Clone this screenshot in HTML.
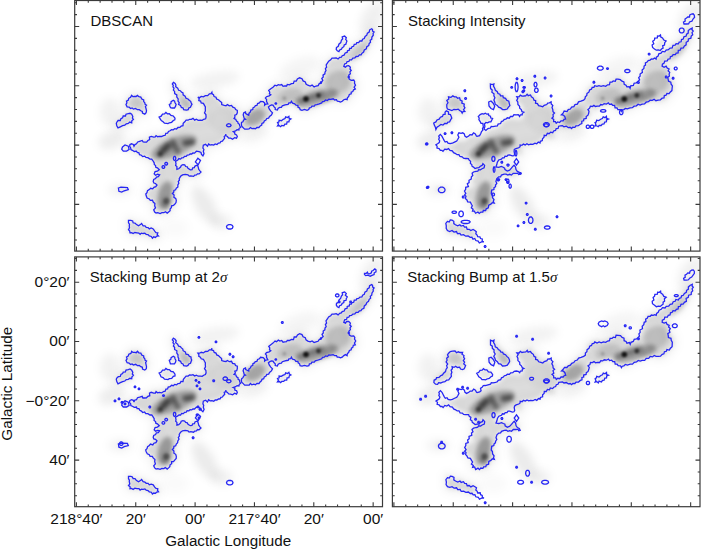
<!DOCTYPE html>
<html><head><meta charset="utf-8"><style>
html,body{margin:0;padding:0;background:#fff;}
svg{display:block;}
text{font-family:"Liberation Sans",sans-serif;fill:#111;}
</style></head><body>
<svg width="701" height="549" viewBox="0 0 701 549">
<defs>
<clipPath id="clip00"><rect x="75" y="0.5" width="307.5" height="250.5"/></clipPath>
<clipPath id="clip10"><rect x="392.5" y="0.5" width="307.5" height="250.5"/></clipPath>
<clipPath id="clip01"><rect x="75" y="257" width="307.5" height="249.5"/></clipPath>
<clipPath id="clip11"><rect x="392.5" y="257" width="307.5" height="249.5"/></clipPath>
<filter id="bl1" filterUnits="userSpaceOnUse" x="0" y="-10" width="420" height="280"><feGaussianBlur stdDeviation="2.2"/></filter>
<filter id="bl2" filterUnits="userSpaceOnUse" x="0" y="-10" width="420" height="280"><feGaussianBlur stdDeviation="4"/></filter>
<filter id="bl3" filterUnits="userSpaceOnUse" x="0" y="-10" width="420" height="280"><feGaussianBlur stdDeviation="1.2"/></filter>
<g id="bgmap" stroke="none"><g fill="#000" fill-opacity="0.04" stroke="#000" stroke-opacity="0.04" stroke-width="9" stroke-linejoin="round" filter="url(#bl2)"><polygon points="129.9,144.6 131.5,143.8 134.0,146.2 136.5,143.8 139.7,141.3 142.2,140.5 144.6,142.1 147.9,140.5 151.2,136.4 153.7,137.2 156.1,135.6 159.4,136.4 163.5,135.6 167.6,133.1 170.1,130.7 173.3,129.8 176.6,129.0 179.9,127.4 183.0,125.7 184.8,121.8 188.1,120.2 191.4,119.3 196.3,119.3 200.4,120.2 203.7,119.3 206.1,116.9 204.5,112.8 205.3,108.7 204.5,105.4 201.2,102.9 198.8,100.5 197.9,97.2 201.2,96.4 205.3,95.6 209.4,93.9 211.9,92.3 213.5,94.7 216.0,97.2 218.4,99.7 220.1,101.3 221.7,104.6 224.2,105.4 227.4,104.6 231.5,105.4 234.8,107.9 237.3,110.3 237.3,112.8 234.8,115.2 234.0,118.5 236.5,121.0 238.1,123.4 239.7,125.9 240.6,127.5 238.9,130.0 235.6,130.8 233.2,131.6 234.8,134.1 237.3,136.5 236.5,138.2 230.7,138.2 227.4,136.5 225.8,134.1 224.2,136.5 223.3,139.8 220.9,141.5 218.4,143.1 215.2,143.9 211.9,144.7 208.6,143.9 207.5,146.1 205.6,144.3 203.3,145.2 202.9,148.0 203.3,151.2 202.9,155.9 201.5,154.5 199.1,151.7 196.4,151.2 194.5,153.1 191.7,154.0 188.9,154.9 186.2,156.3 183.4,157.7 180.6,159.1 177.8,160.0 175.5,161.4 176.0,163.7 176.9,166.5 176.9,169.3 178.7,168.8 180.6,167.0 182.9,164.7 185.7,166.5 188.0,168.4 190.3,169.8 192.7,167.9 195.0,166.1 197.3,165.1 198.2,167.0 198.7,169.3 200.1,171.2 201.0,172.1 199.1,173.9 196.4,174.9 193.6,176.3 190.8,175.8 188.0,174.9 185.2,174.4 182.5,174.9 180.6,176.3 179.2,178.6 178.3,181.4 177.8,185.0 176.3,188.1 173.9,190.4 172.4,193.5 173.9,197.3 176.3,200.4 174.7,204.3 171.6,205.8 170.1,208.9 168.6,212.0 163.9,212.7 160.1,213.5 157.8,212.7 154.7,212.0 154.7,205.8 153.2,202.0 149.3,198.9 146.2,195.8 147.0,192.7 149.3,189.6 153.9,187.3 157.0,185.0 155.5,183.5 153.2,181.4 153.7,179.5 155.6,178.6 158.3,176.7 159.7,174.9 155.6,175.3 154.2,173.9 155.1,171.6 157.4,171.2 159.3,169.8 157.4,167.9 155.6,165.6 154.2,162.8 152.8,160.5 150.0,159.1 147.9,157.7 144.6,156.1 141.4,155.2 138.9,152.8 136.5,151.1 132.4,150.3 130.7,147.9"/><polygon points="241.4,124.2 243.0,127.5 247.1,129.2 250.4,127.5 253.7,128.3 256.9,127.5 260.2,125.9 261.9,123.4 264.3,121.0 266.8,118.5 269.5,116.5 271.4,115.0 272.5,112.9 270.8,111.2 269.2,109.0 268.4,106.9 269.5,106.0 271.4,104.9 273.0,105.2 274.1,106.9 275.2,109.6 277.4,110.1 278.0,108.5 279.6,107.4 282.3,105.8 285.0,104.9 286.5,104.6 288.9,102.9 291.4,101.3 294.7,103.8 297.9,105.4 299.6,107.9 302.0,110.3 304.5,109.5 307.0,110.3 309.4,107.9 311.9,106.2 314.3,106.2 316.8,104.6 319.2,103.8 321.7,102.9 324.2,101.3 327.4,100.5 330.7,99.3 333.2,98.8 336.5,99.7 338.9,101.3 342.2,101.3 343.8,99.7 347.1,99.7 348.7,96.4 351.2,93.9 352.8,91.5 355.3,89.0 354.5,83.3 353.7,80.0 351.2,80.3 348.7,77.0 350.4,73.7 351.2,70.5 350.4,67.2 348.7,65.6 345.5,67.2 343.8,66.4 344.6,63.9 347.1,61.5 349.6,59.8 352.8,58.2 356.1,56.5 359.4,54.9 361.9,53.3 364.3,50.0 366.8,46.7 369.2,43.4 371.7,39.3 373.3,35.2 374.1,32.0 372.5,29.5 371.7,28.7 369.2,32.0 366.8,35.2 364.3,38.5 361.9,41.0 358.6,42.6 356.1,44.2 352.0,46.7 349.6,48.3 347.1,52.4 342.2,55.7 339.7,57.4 338.1,59.0 334.0,58.2 330.7,59.8 327.4,63.1 326.6,67.2 325.0,72.1 323.3,77.0 321.7,81.9 319.2,83.6 316.0,86.0 310.2,86.0 307.8,85.2 305.3,81.9 302.0,78.7 299.6,77.8 296.3,81.1 291.4,83.6 287.3,84.4 284.8,86.0 279.9,85.2 275.0,85.2 274.7,85.5 273.0,87.2 270.8,88.8 268.7,90.5 269.8,92.1 270.8,94.8 269.2,95.9 266.5,96.7 265.4,98.1 266.5,101.4 267.8,103.9 265.9,104.1 264.6,105.2 263.2,101.7 260.5,101.4 259.4,102.9 256.9,105.4 254.5,107.0 252.8,109.5 250.4,112.0 248.7,115.2 247.1,114.4 245.5,112.0 243.8,112.8 243.8,116.9 245.5,119.3 243.0,121.8"/><polygon points="126.0,104.5 126.5,101.1 128.8,98.3 131.7,95.4 134.5,96.5 137.4,95.4 140.8,97.1 143.7,100.0 144.8,102.8 146.5,105.1 146.0,108.5 146.5,110.8 144.8,114.2 142.5,113.1 140.8,110.8 137.4,109.7 133.4,109.1 130.5,108.5 127.1,106.8"/><polygon points="116.3,123.4 116.8,122.2 120.3,120.5 122.6,117.7 126.0,114.2 128.3,113.7 131.7,114.2 132.8,116.5 133.4,119.4 131.7,122.8 128.3,123.4 124.8,125.1 122.6,125.7 120.3,126.8 118.0,127.9 116.8,125.7"/><polygon points="173.4,82.3 175.1,83.4 175.7,86.8 178.6,90.3 181.4,92.0 183.1,94.8 186.0,98.3 189.4,100.5 191.1,102.8 191.1,105.7 188.8,108.0 186.5,110.2 183.7,109.7 181.4,107.4 178.6,104.5 178.0,101.1 176.8,97.1 174.6,91.4 172.9,86.8 172.3,84.0"/><polygon points="128.5,220.4 130.8,220.4 133.1,222.8 136.2,224.3 138.5,225.8 140.8,224.3 141.6,223.5 143.1,225.8 146.2,227.4 149.3,228.9 153.2,228.9 154.7,231.2 157.8,232.8 158.5,235.9 155.5,237.4 152.4,238.2 149.3,235.9 146.2,234.3 143.1,233.5 140.1,234.3 137.0,232.8 133.1,233.5 130.0,232.8 128.5,229.7 129.3,225.8 128.5,222.8"/></g><ellipse cx="112" cy="140" rx="14" ry="9" transform="rotate(-20 112 140)" fill="#000" fill-opacity="0.07" filter="url(#bl2)"/><ellipse cx="110" cy="112" rx="10" ry="14" transform="rotate(0 110 112)" fill="#000" fill-opacity="0.05" filter="url(#bl2)"/><ellipse cx="205" cy="205" rx="9" ry="22" transform="rotate(-30 205 205)" fill="#000" fill-opacity="0.08" filter="url(#bl2)"/><ellipse cx="222" cy="222" rx="10" ry="8" transform="rotate(0 222 222)" fill="#000" fill-opacity="0.06" filter="url(#bl2)"/><ellipse cx="215" cy="80" rx="25" ry="8" transform="rotate(-10 215 80)" fill="#000" fill-opacity="0.05" filter="url(#bl2)"/><ellipse cx="372" cy="18" rx="10" ry="18" transform="rotate(30 372 18)" fill="#000" fill-opacity="0.06" filter="url(#bl2)"/><ellipse cx="300" cy="68" rx="22" ry="10" transform="rotate(-20 300 68)" fill="#000" fill-opacity="0.04" filter="url(#bl2)"/><ellipse cx="175" cy="228" rx="14" ry="10" transform="rotate(0 175 228)" fill="#000" fill-opacity="0.02" filter="url(#bl2)"/><ellipse cx="120" cy="190" rx="12" ry="6" transform="rotate(0 120 190)" fill="#000" fill-opacity="0.05" filter="url(#bl2)"/><ellipse cx="255" cy="135" rx="14" ry="6" transform="rotate(-20 255 135)" fill="#000" fill-opacity="0.05" filter="url(#bl2)"/><g fill="#000" fill-opacity="0.10" filter="url(#bl1)"><polygon points="129.9,144.6 131.5,143.8 134.0,146.2 136.5,143.8 139.7,141.3 142.2,140.5 144.6,142.1 147.9,140.5 151.2,136.4 153.7,137.2 156.1,135.6 159.4,136.4 163.5,135.6 167.6,133.1 170.1,130.7 173.3,129.8 176.6,129.0 179.9,127.4 183.0,125.7 184.8,121.8 188.1,120.2 191.4,119.3 196.3,119.3 200.4,120.2 203.7,119.3 206.1,116.9 204.5,112.8 205.3,108.7 204.5,105.4 201.2,102.9 198.8,100.5 197.9,97.2 201.2,96.4 205.3,95.6 209.4,93.9 211.9,92.3 213.5,94.7 216.0,97.2 218.4,99.7 220.1,101.3 221.7,104.6 224.2,105.4 227.4,104.6 231.5,105.4 234.8,107.9 237.3,110.3 237.3,112.8 234.8,115.2 234.0,118.5 236.5,121.0 238.1,123.4 239.7,125.9 240.6,127.5 238.9,130.0 235.6,130.8 233.2,131.6 234.8,134.1 237.3,136.5 236.5,138.2 230.7,138.2 227.4,136.5 225.8,134.1 224.2,136.5 223.3,139.8 220.9,141.5 218.4,143.1 215.2,143.9 211.9,144.7 208.6,143.9 207.5,146.1 205.6,144.3 203.3,145.2 202.9,148.0 203.3,151.2 202.9,155.9 201.5,154.5 199.1,151.7 196.4,151.2 194.5,153.1 191.7,154.0 188.9,154.9 186.2,156.3 183.4,157.7 180.6,159.1 177.8,160.0 175.5,161.4 176.0,163.7 176.9,166.5 176.9,169.3 178.7,168.8 180.6,167.0 182.9,164.7 185.7,166.5 188.0,168.4 190.3,169.8 192.7,167.9 195.0,166.1 197.3,165.1 198.2,167.0 198.7,169.3 200.1,171.2 201.0,172.1 199.1,173.9 196.4,174.9 193.6,176.3 190.8,175.8 188.0,174.9 185.2,174.4 182.5,174.9 180.6,176.3 179.2,178.6 178.3,181.4 177.8,185.0 176.3,188.1 173.9,190.4 172.4,193.5 173.9,197.3 176.3,200.4 174.7,204.3 171.6,205.8 170.1,208.9 168.6,212.0 163.9,212.7 160.1,213.5 157.8,212.7 154.7,212.0 154.7,205.8 153.2,202.0 149.3,198.9 146.2,195.8 147.0,192.7 149.3,189.6 153.9,187.3 157.0,185.0 155.5,183.5 153.2,181.4 153.7,179.5 155.6,178.6 158.3,176.7 159.7,174.9 155.6,175.3 154.2,173.9 155.1,171.6 157.4,171.2 159.3,169.8 157.4,167.9 155.6,165.6 154.2,162.8 152.8,160.5 150.0,159.1 147.9,157.7 144.6,156.1 141.4,155.2 138.9,152.8 136.5,151.1 132.4,150.3 130.7,147.9"/><polygon points="241.4,124.2 243.0,127.5 247.1,129.2 250.4,127.5 253.7,128.3 256.9,127.5 260.2,125.9 261.9,123.4 264.3,121.0 266.8,118.5 269.5,116.5 271.4,115.0 272.5,112.9 270.8,111.2 269.2,109.0 268.4,106.9 269.5,106.0 271.4,104.9 273.0,105.2 274.1,106.9 275.2,109.6 277.4,110.1 278.0,108.5 279.6,107.4 282.3,105.8 285.0,104.9 286.5,104.6 288.9,102.9 291.4,101.3 294.7,103.8 297.9,105.4 299.6,107.9 302.0,110.3 304.5,109.5 307.0,110.3 309.4,107.9 311.9,106.2 314.3,106.2 316.8,104.6 319.2,103.8 321.7,102.9 324.2,101.3 327.4,100.5 330.7,99.3 333.2,98.8 336.5,99.7 338.9,101.3 342.2,101.3 343.8,99.7 347.1,99.7 348.7,96.4 351.2,93.9 352.8,91.5 355.3,89.0 354.5,83.3 353.7,80.0 351.2,80.3 348.7,77.0 350.4,73.7 351.2,70.5 350.4,67.2 348.7,65.6 345.5,67.2 343.8,66.4 344.6,63.9 347.1,61.5 349.6,59.8 352.8,58.2 356.1,56.5 359.4,54.9 361.9,53.3 364.3,50.0 366.8,46.7 369.2,43.4 371.7,39.3 373.3,35.2 374.1,32.0 372.5,29.5 371.7,28.7 369.2,32.0 366.8,35.2 364.3,38.5 361.9,41.0 358.6,42.6 356.1,44.2 352.0,46.7 349.6,48.3 347.1,52.4 342.2,55.7 339.7,57.4 338.1,59.0 334.0,58.2 330.7,59.8 327.4,63.1 326.6,67.2 325.0,72.1 323.3,77.0 321.7,81.9 319.2,83.6 316.0,86.0 310.2,86.0 307.8,85.2 305.3,81.9 302.0,78.7 299.6,77.8 296.3,81.1 291.4,83.6 287.3,84.4 284.8,86.0 279.9,85.2 275.0,85.2 274.7,85.5 273.0,87.2 270.8,88.8 268.7,90.5 269.8,92.1 270.8,94.8 269.2,95.9 266.5,96.7 265.4,98.1 266.5,101.4 267.8,103.9 265.9,104.1 264.6,105.2 263.2,101.7 260.5,101.4 259.4,102.9 256.9,105.4 254.5,107.0 252.8,109.5 250.4,112.0 248.7,115.2 247.1,114.4 245.5,112.0 243.8,112.8 243.8,116.9 245.5,119.3 243.0,121.8"/><polygon points="336.5,47.5 338.9,44.2 341.4,40.2 342.2,36.9 344.6,36.1 346.3,37.7 346.3,42.6 343.8,46.7 341.4,49.2 338.9,51.6 337.3,50.8"/><polygon points="126.0,104.5 126.5,101.1 128.8,98.3 131.7,95.4 134.5,96.5 137.4,95.4 140.8,97.1 143.7,100.0 144.8,102.8 146.5,105.1 146.0,108.5 146.5,110.8 144.8,114.2 142.5,113.1 140.8,110.8 137.4,109.7 133.4,109.1 130.5,108.5 127.1,106.8"/><polygon points="116.3,123.4 116.8,122.2 120.3,120.5 122.6,117.7 126.0,114.2 128.3,113.7 131.7,114.2 132.8,116.5 133.4,119.4 131.7,122.8 128.3,123.4 124.8,125.1 122.6,125.7 120.3,126.8 118.0,127.9 116.8,125.7"/><polygon points="159.1,117.1 162.5,114.2 165.9,112.5 169.3,113.7 173.3,116.0 175.0,118.2 173.3,120.5 169.3,122.8 166.5,123.4 163.1,121.7 160.2,118.8"/><polygon points="169.3,104.5 171.1,101.7 173.3,100.3 175.0,102.8 175.6,106.2 174.5,108.0 172.2,108.0 169.9,106.2"/><polygon points="173.4,82.3 175.1,83.4 175.7,86.8 178.6,90.3 181.4,92.0 183.1,94.8 186.0,98.3 189.4,100.5 191.1,102.8 191.1,105.7 188.8,108.0 186.5,110.2 183.7,109.7 181.4,107.4 178.6,104.5 178.0,101.1 176.8,97.1 174.6,91.4 172.9,86.8 172.3,84.0"/><polygon points="128.5,220.4 130.8,220.4 133.1,222.8 136.2,224.3 138.5,225.8 140.8,224.3 141.6,223.5 143.1,225.8 146.2,227.4 149.3,228.9 153.2,228.9 154.7,231.2 157.8,232.8 158.5,235.9 155.5,237.4 152.4,238.2 149.3,235.9 146.2,234.3 143.1,233.5 140.1,234.3 137.0,232.8 133.1,233.5 130.0,232.8 128.5,229.7 129.3,225.8 128.5,222.8"/><polygon points="277.5,122.6 279.1,120.2 283.2,119.3 285.7,116.9 288.9,116.4 290.9,119.0 288.9,121.8 284.8,124.2 280.7,126.7 277.5,125.9"/><polygon points="118.4,188.0 120.9,187.2 127.4,187.5 128.3,189.6 124.2,190.8 121.7,192.1 118.9,191.3"/><polygon points="122.5,147.0 125.0,144.9 128.3,146.2 129.1,149.5 126.6,151.1 123.3,151.1 121.7,149.2"/></g><ellipse cx="174" cy="147" rx="24" ry="9" transform="rotate(-22 174 147)" fill="#000" fill-opacity="0.28" filter="url(#bl1)"/><ellipse cx="165" cy="195" rx="7" ry="14" transform="rotate(15 165 195)" fill="#000" fill-opacity="0.3" filter="url(#bl1)"/><ellipse cx="166" cy="203" rx="4" ry="6" transform="rotate(0 166 203)" fill="#000" fill-opacity="0.3" filter="url(#bl1)"/><ellipse cx="255" cy="117" rx="11" ry="7" transform="rotate(-30 255 117)" fill="#000" fill-opacity="0.24" filter="url(#bl1)"/><ellipse cx="316" cy="98" rx="22" ry="7" transform="rotate(-15 316 98)" fill="#000" fill-opacity="0.26" filter="url(#bl1)"/><ellipse cx="338" cy="82" rx="13" ry="11" transform="rotate(-30 338 82)" fill="#000" fill-opacity="0.14" filter="url(#bl1)"/><ellipse cx="360" cy="52" rx="12" ry="4" transform="rotate(-45 360 52)" fill="#000" fill-opacity="0.1" filter="url(#bl1)"/><ellipse cx="222" cy="120" rx="14" ry="12" transform="rotate(0 222 120)" fill="#000" fill-opacity="0.03" filter="url(#bl1)"/><ellipse cx="186" cy="103" rx="4" ry="7" transform="rotate(-35 186 103)" fill="#000" fill-opacity="0.14" filter="url(#bl1)"/><ellipse cx="137" cy="103" rx="6" ry="5" transform="rotate(0 137 103)" fill="#000" fill-opacity="0.08" filter="url(#bl1)"/><ellipse cx="290" cy="96" rx="13" ry="7" transform="rotate(-15 290 96)" fill="#000" fill-opacity="0.12" filter="url(#bl1)"/><ellipse cx="330" cy="96" rx="10" ry="5" transform="rotate(-15 330 96)" fill="#000" fill-opacity="0.1" filter="url(#bl1)"/><line x1="160" y1="154.5" x2="168" y2="145" stroke="#000" stroke-opacity="0.55" stroke-width="5" stroke-linecap="round" filter="url(#bl1)"/><line x1="172.5" y1="141" x2="178" y2="152" stroke="#000" stroke-opacity="0.45" stroke-width="4.5" stroke-linecap="round" filter="url(#bl1)"/><line x1="185" y1="143" x2="192.5" y2="142" stroke="#000" stroke-opacity="0.55" stroke-width="5.5" stroke-linecap="round" filter="url(#bl1)"/><line x1="163" y1="150" x2="171" y2="146" stroke="#000" stroke-opacity="0.25" stroke-width="7" stroke-linecap="round" filter="url(#bl1)"/><line x1="300" y1="101" x2="322" y2="94" stroke="#000" stroke-opacity="0.3" stroke-width="5" stroke-linecap="round" filter="url(#bl1)"/><circle cx="160" cy="154" r="2.5" fill="#000" fill-opacity="0.35" filter="url(#bl3)"/><circle cx="284.4" cy="98.2" r="2" fill="#000" fill-opacity="0.18" filter="url(#bl3)"/><circle cx="166.5" cy="201" r="3" fill="#000" fill-opacity="0.3" filter="url(#bl3)"/><circle cx="306" cy="99" r="2.8" fill="#000" fill-opacity="0.85" filter="url(#bl3)"/><circle cx="318.5" cy="95.5" r="2.4" fill="#000" fill-opacity="0.6" filter="url(#bl3)"/></g>
</defs>
<rect width="701" height="549" fill="#fff"/>
<g fill="none" stroke="#2626f4" stroke-width="1.28" stroke-linejoin="miter" stroke-miterlimit="3">
<g clip-path="url(#clip00)"><use href="#bgmap" stroke="none" transform="translate(0,0)"/><g transform="translate(0,0)"><polygon points="129.9,144.6 131.5,143.8 133.3,144.4 134.0,146.2 134.9,144.6 136.5,143.8 137.7,142.0 139.7,141.3 142.2,140.5 143.1,141.8 144.6,142.1 146.6,142.1 147.9,140.5 149.7,139.7 149.4,137.2 151.2,136.4 153.7,137.2 155.2,136.9 156.1,135.6 157.6,136.7 159.4,136.4 161.5,136.5 163.5,135.6 165.2,135.3 165.8,133.3 167.6,133.1 168.5,131.5 170.1,130.7 171.5,129.7 173.3,129.8 174.8,128.6 176.6,129.0 177.9,127.5 179.9,127.4 181.2,126.0 183.0,125.7 183.2,123.4 184.8,121.8 186.1,120.2 188.1,120.2 189.6,119.3 191.4,119.3 193.0,118.4 194.7,120.1 196.3,119.3 198.2,120.4 200.4,120.2 202.2,120.3 203.7,119.3 205.6,118.8 206.1,116.9 205.9,114.6 204.5,112.8 205.4,110.9 205.3,108.7 205.4,106.9 204.5,105.4 203.4,103.4 201.2,102.9 200.6,101.1 198.8,100.5 199.2,98.6 197.9,97.2 199.8,97.6 201.2,96.4 203.4,96.8 205.3,95.6 207.7,95.7 209.4,93.9 211.0,93.7 211.9,92.3 212.1,93.9 213.5,94.7 214.1,96.6 216.0,97.2 216.6,99.0 218.4,99.7 220.1,101.3 221.7,102.5 221.7,104.6 224.2,105.4 226.0,105.8 227.4,104.6 229.3,105.8 231.5,105.4 232.8,107.1 234.8,107.9 235.6,109.5 237.3,110.3 237.3,112.8 236.5,114.5 234.8,115.2 234.9,117.0 234.0,118.5 235.7,119.3 236.5,121.0 237.8,121.9 238.1,123.4 239.4,124.3 239.7,125.9 240.6,127.5 239.1,128.3 238.9,130.0 237.1,129.7 235.6,130.8 233.2,131.6 234.6,132.5 234.8,134.1 236.5,134.9 237.3,136.5 236.5,138.2 234.6,137.6 232.6,139.2 230.7,138.2 228.7,138.1 227.4,136.5 225.9,135.7 225.8,134.1 225.5,135.6 224.2,136.5 224.6,138.4 223.3,139.8 222.4,141.1 220.9,141.5 220.0,142.9 218.4,143.1 217.0,144.5 215.2,143.9 213.7,145.1 211.9,144.7 210.1,145.1 208.6,143.9 207.5,146.1 205.6,144.3 203.3,145.2 202.9,148.0 203.9,149.5 203.3,151.2 204.0,153.6 202.9,155.9 201.5,154.5 201.0,152.5 199.1,151.7 196.4,151.2 194.5,153.1 192.9,153.0 191.7,154.0 190.1,154.0 188.9,154.9 187.2,155.0 186.2,156.3 184.5,156.4 183.4,157.7 181.7,157.9 180.6,159.1 178.9,158.6 177.8,160.0 175.5,161.4 176.0,163.7 175.6,165.4 176.9,166.5 176.9,169.3 178.7,168.8 180.6,167.0 181.3,165.4 182.9,164.7 184.7,164.9 185.7,166.5 187.3,166.9 188.0,168.4 190.3,169.8 192.1,169.6 192.7,167.9 194.3,167.6 195.0,166.1 197.3,165.1 198.2,167.0 198.7,169.3 200.1,171.2 201.0,172.1 199.1,173.9 197.5,173.8 196.4,174.9 194.7,175.0 193.6,176.3 190.8,175.8 189.2,176.1 188.0,174.9 185.2,174.4 182.5,174.9 180.6,176.3 179.2,178.6 179.4,180.2 178.3,181.4 178.8,183.3 177.8,185.0 177.9,187.0 176.3,188.1 175.6,189.8 173.9,190.4 173.7,192.2 172.4,193.5 174.1,195.0 173.9,197.3 175.7,198.4 176.3,200.4 176.0,202.6 174.7,204.3 173.4,205.5 171.6,205.8 171.3,207.6 170.1,208.9 170.1,210.8 168.6,212.0 167.2,213.1 165.4,211.8 163.9,212.7 161.9,212.6 160.1,213.5 157.8,212.7 156.1,213.0 154.7,212.0 153.7,209.9 155.5,207.9 154.7,205.8 154.9,203.5 153.2,202.0 152.5,200.2 150.3,200.3 149.3,198.9 147.1,198.0 146.2,195.8 145.8,194.0 147.0,192.7 147.5,190.7 149.3,189.6 150.6,188.3 152.7,188.8 153.9,187.3 155.8,186.6 157.0,185.0 155.5,183.5 153.9,183.0 153.2,181.4 153.7,179.5 155.6,178.6 156.5,177.1 158.3,176.7 159.7,174.9 157.6,174.1 155.6,175.3 154.2,173.9 155.1,171.6 157.4,171.2 159.3,169.8 157.4,167.9 155.8,167.3 155.6,165.6 154.3,164.5 154.2,162.8 152.8,160.5 151.7,159.1 150.0,159.1 147.9,157.7 146.0,157.4 144.6,156.1 142.7,156.6 141.4,155.2 139.5,154.7 138.9,152.8 137.3,152.5 136.5,151.1 134.3,151.5 132.4,150.3 130.9,149.6 130.7,147.9 129.7,146.4"/><polygon points="241.4,124.2 241.7,126.1 243.0,127.5 244.7,129.1 247.1,129.2 249.0,128.9 250.4,127.5 251.9,128.6 253.7,128.3 255.5,128.7 256.9,127.5 258.9,127.5 260.2,125.9 261.7,125.1 261.9,123.4 263.6,122.7 264.3,121.0 265.9,120.1 266.8,118.5 268.6,118.1 269.5,116.5 271.4,115.0 272.5,112.9 270.8,111.2 269.2,109.0 268.4,106.9 269.5,106.0 271.4,104.9 273.0,105.2 274.1,106.9 275.3,108.0 275.2,109.6 277.4,110.1 278.0,108.5 279.6,107.4 281.4,107.4 282.3,105.8 285.0,104.9 286.5,104.6 288.1,104.4 288.9,102.9 290.6,102.8 291.4,101.3 292.6,103.1 294.7,103.8 296.0,105.1 297.9,105.4 298.0,107.2 299.6,107.9 300.2,109.7 302.0,110.3 304.5,109.5 307.0,110.3 308.7,109.6 309.4,107.9 311.0,107.5 311.9,106.2 314.3,106.2 315.1,104.8 316.8,104.6 319.2,103.8 321.7,102.9 322.5,101.5 324.2,101.3 325.6,100.0 327.4,100.5 328.8,99.1 330.7,99.3 333.2,98.8 334.7,100.0 336.5,99.7 337.3,101.2 338.9,101.3 340.5,102.0 342.2,101.3 343.8,99.7 345.5,99.2 347.1,99.7 347.4,97.8 348.7,96.4 349.3,94.5 351.2,93.9 351.2,92.2 352.8,91.5 353.6,89.8 355.3,89.0 354.1,87.2 355.5,85.1 354.5,83.3 354.6,81.5 353.7,80.0 351.2,80.3 349.2,79.2 348.7,77.0 348.8,75.0 350.4,73.7 349.9,71.9 351.2,70.5 350.0,69.0 350.4,67.2 348.7,65.6 346.9,65.9 345.5,67.2 343.8,66.4 344.6,63.9 346.4,63.3 347.1,61.5 348.9,61.4 349.6,59.8 351.6,59.8 352.8,58.2 354.8,57.9 356.1,56.5 358.1,56.4 359.4,54.9 361.1,54.8 361.9,53.3 363.6,52.0 364.3,50.0 366.3,48.9 366.8,46.7 368.7,45.6 369.2,43.4 370.5,42.3 370.2,40.3 371.7,39.3 371.9,37.0 373.3,35.2 373.1,33.5 374.1,32.0 372.6,31.2 372.5,29.5 371.7,28.7 369.7,29.8 369.2,32.0 367.4,33.1 366.8,35.2 365.1,36.5 364.3,38.5 362.6,39.2 361.9,41.0 359.9,41.0 358.6,42.6 356.8,42.6 356.1,44.2 354.3,44.3 353.6,46.3 352.0,46.7 351.3,48.3 349.6,48.3 349.5,50.1 347.5,50.8 347.1,52.4 345.2,53.0 344.1,55.1 342.2,55.7 341.4,57.2 339.7,57.4 338.1,59.0 336.2,58.0 334.0,58.2 332.0,58.2 330.7,59.8 328.7,61.1 327.4,63.1 326.2,65.0 326.6,67.2 325.4,68.6 326.0,70.6 325.0,72.1 324.9,73.9 323.0,75.1 323.3,77.0 321.8,78.3 322.8,80.4 321.7,81.9 320.9,83.5 319.2,83.6 318.2,85.6 316.0,86.0 314.1,87.0 312.1,85.1 310.2,86.0 307.8,85.2 306.0,84.0 305.3,81.9 303.1,80.9 302.0,78.7 299.6,77.8 297.4,78.9 296.3,81.1 294.2,81.1 293.4,83.5 291.4,83.6 289.5,84.9 287.3,84.4 286.6,86.0 284.8,86.0 283.1,86.4 281.7,84.6 279.9,85.2 278.3,84.7 276.6,85.8 275.0,85.2 274.7,85.5 273.0,87.2 270.8,88.8 268.7,90.5 269.8,92.1 269.4,93.8 270.8,94.8 269.2,95.9 266.5,96.7 265.4,98.1 266.6,99.5 266.5,101.4 267.8,103.9 265.9,104.1 264.6,105.2 264.7,103.1 263.2,101.7 260.5,101.4 259.4,102.9 257.6,103.6 256.9,105.4 255.4,105.7 254.5,107.0 253.0,107.8 252.8,109.5 250.9,110.1 250.4,112.0 249.0,113.3 248.7,115.2 247.1,114.4 245.7,113.6 245.5,112.0 243.8,112.8 243.2,114.8 243.8,116.9 244.2,118.4 245.5,119.3 243.6,119.9 243.0,121.8 241.5,122.5"/><polygon points="336.5,47.5 338.3,46.3 338.9,44.2 340.8,42.6 341.4,40.2 342.7,38.8 342.2,36.9 344.6,36.1 346.3,37.7 345.7,39.3 346.9,41.0 346.3,42.6 345.9,44.2 344.2,45.0 343.8,46.7 342.2,47.6 341.4,49.2 339.7,50.0 338.9,51.6 337.3,50.8 336.2,49.3"/><polygon points="126.0,104.5 126.9,102.9 126.5,101.1 128.2,100.2 128.8,98.3 130.6,97.2 131.7,95.4 132.9,96.6 134.5,96.5 136.1,96.5 137.4,95.4 138.9,96.7 140.8,97.1 141.8,99.0 143.7,100.0 143.7,101.6 144.8,102.8 145.1,104.3 146.5,105.1 145.4,106.7 146.0,108.5 146.5,110.8 146.1,112.7 144.8,114.2 142.5,113.1 142.3,111.5 140.8,110.8 139.3,109.7 137.4,109.7 135.5,108.5 133.4,109.1 132.1,107.9 130.5,108.5 129.1,107.1 127.1,106.8"/><polygon points="116.3,123.4 116.8,122.2 118.1,120.5 120.3,120.5 120.9,118.7 122.6,117.7 123.2,116.0 125.5,116.0 126.0,114.2 128.3,113.7 130.1,113.3 131.7,114.2 132.8,116.5 132.4,118.1 133.4,119.4 131.8,120.7 131.7,122.8 129.8,122.1 128.3,123.4 126.3,123.8 124.8,125.1 122.6,125.7 120.3,126.8 118.0,127.9 116.8,125.7"/><polygon points="159.1,117.1 161.2,116.2 162.5,114.2 164.5,114.0 165.9,112.5 167.4,113.8 169.3,113.7 171.0,115.4 173.3,116.0 175.0,118.2 174.8,119.8 173.3,120.5 171.6,122.3 169.3,122.8 168.0,123.6 166.5,123.4 164.5,123.2 163.1,121.7 161.3,120.6 160.2,118.8"/><polygon points="169.3,104.5 170.9,103.5 171.1,101.7 173.3,100.3 174.6,101.2 175.0,102.8 176.1,104.4 175.6,106.2 174.5,108.0 172.2,108.0 170.6,107.6 169.9,106.2"/><polygon points="173.4,82.3 175.1,83.4 175.9,85.0 175.7,86.8 177.7,88.1 178.6,90.3 180.3,90.7 181.4,92.0 183.0,92.9 183.1,94.8 185.1,96.1 186.0,98.3 188.0,99.0 189.4,100.5 190.7,101.3 191.1,102.8 192.0,104.2 191.1,105.7 190.4,107.3 188.8,108.0 188.2,109.7 186.5,110.2 183.7,109.7 183.1,108.0 181.4,107.4 180.5,105.4 178.6,104.5 179.2,102.6 178.0,101.1 178.2,98.9 176.8,97.1 176.8,94.9 174.7,93.6 174.6,91.4 173.4,90.1 174.0,88.1 172.9,86.8 173.3,85.3 172.3,84.0"/><polygon points="122.5,147.0 125.0,144.9 128.3,146.2 129.1,149.5 126.6,151.1 123.3,151.1 121.7,149.2"/><polygon points="118.4,188.0 120.9,187.2 127.4,187.5 128.3,189.6 124.2,190.8 121.7,192.1 118.9,191.3"/><polygon points="128.5,220.4 130.8,220.4 132.7,220.9 133.1,222.8 134.9,223.1 136.2,224.3 138.5,225.8 140.8,224.3 141.6,223.5 143.1,225.8 145.0,225.8 146.2,227.4 148.1,227.5 149.3,228.9 151.2,227.9 153.2,228.9 154.7,231.2 155.9,232.6 157.8,232.8 157.2,234.6 158.5,235.9 156.7,236.1 155.5,237.4 153.7,236.8 152.4,238.2 151.3,236.5 149.3,235.9 148.0,234.6 146.2,234.3 144.8,233.2 143.1,233.5 141.4,233.1 140.1,234.3 138.8,233.1 137.0,232.8 134.9,232.5 133.1,233.5 131.7,232.7 130.0,232.8 129.7,231.0 128.5,229.7 129.5,227.9 129.3,225.8 129.5,224.1 128.5,222.8"/><polygon points="277.5,122.6 279.0,121.8 279.1,120.2 281.4,120.7 283.2,119.3 285.0,118.6 285.7,116.9 287.4,117.5 288.9,116.4 289.1,118.3 290.9,119.0 289.3,120.0 288.9,121.8 287.1,121.9 286.6,124.1 284.8,124.2 283.9,125.8 281.8,125.4 280.7,126.7 279.2,125.7 277.5,125.9 278.5,124.2"/><polygon points="231.1,125.3 230.4,126.4 228.8,126.9 227.2,126.4 226.5,125.3 227.2,124.2 228.8,123.7 230.4,124.2"/><polygon points="164.8,167.0 164.5,167.8 163.8,168.3 163.0,168.3 162.3,167.8 162.0,167.0 162.3,166.2 163.0,165.7 163.8,165.7 164.5,166.2"/><polygon points="167.6,163.8 167.3,164.5 166.6,165.0 165.8,165.0 165.1,164.5 164.8,163.8 165.1,163.0 165.8,162.5 166.6,162.5 167.3,163.0"/><polygon points="175.8,158.4 175.6,159.6 175.0,160.4 174.2,160.4 173.6,159.6 173.4,158.4 173.6,157.2 174.2,156.4 175.0,156.4 175.6,157.2"/><polygon points="197.9,158.2 200.5,160.5 198.2,164.7 195.4,162.0"/><polygon points="233.0,226.8 232.4,228.2 230.8,229.0 228.7,229.0 227.1,228.2 226.5,226.8 227.1,225.4 228.7,224.6 230.8,224.6 232.4,225.4"/><polygon points="276.6,103.6 276.2,104.2 275.4,104.2 275.0,103.6 275.4,103.0 276.2,103.0"/><polygon points="321.5,82.5 321.2,83.0 320.6,83.0 320.3,82.5 320.6,82.0 321.2,82.0"/><polygon points="349.3,77.0 349.0,77.5 348.4,77.5 348.1,77.0 348.4,76.5 349.0,76.5"/></g></g>
<g clip-path="url(#clip10)"><use href="#bgmap" stroke="none" transform="translate(318.3,0)"/><g transform="translate(317.5,0)"><polygon points="118.4,144.8 120.1,143.7 121.7,142.6 122.2,140.8 121.2,139.3 121.9,137.7 121.2,136.1 122.8,134.4 124.4,136.1 125.5,138.3 126.6,140.4 127.7,142.1 129.4,141.5 130.5,143.2 132.6,143.7 134.8,143.2 137.0,142.1 139.2,141.0 140.3,139.3 141.4,137.2 140.3,135.0 141.4,132.8 143.6,133.3 145.2,132.8 146.8,133.9 147.4,136.1 149.0,137.2 151.2,136.1 152.5,134.6 154.5,135.0 156.1,132.8 157.8,133.9 158.9,136.1 159.5,136.3 162.1,135.6 163.3,133.5 164.0,131.5 165.3,130.3 165.0,128.5 165.9,127.1 165.6,125.5 165.3,123.3 163.5,123.3 162.7,121.6 161.4,119.7 161.7,118.0 160.8,116.5 162.7,114.6 164.6,113.6 166.3,114.1 167.8,113.3 169.3,114.2 171.0,113.9 171.3,115.6 172.9,116.2 173.3,118.0 175.1,118.4 174.2,120.3 173.4,121.9 171.6,121.9 170.1,122.9 168.4,122.5 166.9,124.0 167.4,126.5 166.6,129.0 168.4,130.5 170.4,128.6 172.9,128.0 173.7,126.4 175.5,126.7 178.0,126.1 179.9,125.9 180.6,124.1 183.1,123.5 183.9,121.6 185.8,120.8 186.7,119.4 188.4,119.1 189.9,117.8 191.8,118.2 193.0,116.4 195.2,116.5 196.4,114.7 198.6,114.8 200.8,114.7 202.1,116.5 202.8,114.9 204.6,114.8 204.9,113.1 206.3,112.2 204.4,111.5 203.8,109.6 202.2,108.3 202.1,106.2 200.4,104.4 200.3,101.9 199.2,100.4 200.3,98.4 199.3,96.8 201.5,96.9 202.8,95.1 204.4,96.1 206.2,96.0 208.2,95.8 209.6,94.2 210.7,95.7 213.0,95.0 213.9,96.8 215.7,98.1 216.5,100.2 218.2,100.7 218.0,103.2 219.9,103.6 221.1,105.6 223.3,106.2 225.2,106.8 226.7,105.4 229.3,104.5 230.2,103.0 231.9,102.8 233.6,101.9 233.7,104.0 235.3,105.4 234.5,107.5 235.3,109.6 235.5,111.7 237.0,113.1 235.5,114.5 235.8,116.8 234.4,118.2 236.2,119.4 236.1,121.6 237.9,121.7 238.7,123.3 240.2,122.0 242.1,122.5 243.5,120.9 245.6,120.8 246.5,119.4 248.1,119.1 247.3,116.5 245.9,115.0 243.9,114.8 245.6,113.1 246.7,111.0 249.6,111.6 250.7,109.6 252.9,109.0 254.1,107.1 256.4,106.6 257.5,104.5 259.9,104.1 261.0,101.9 263.5,101.1 266.1,100.2 267.5,98.8 267.8,96.8 269.3,95.4 269.5,93.4 271.4,92.2 272.1,90.0 273.9,89.2 274.7,87.4 276.4,87.3 277.2,85.7 279.4,86.4 281.5,85.7 283.6,86.3 285.8,85.7 288.2,86.3 290.1,84.8 292.0,84.6 292.5,82.2 294.5,82.2 295.7,80.9 297.8,81.3 298.6,79.2 300.5,79.2 302.8,79.7 304.5,81.2 306.4,82.0 306.7,84.3 308.5,85.2 309.4,86.8 311.7,86.6 312.6,88.2 313.2,85.9 315.9,85.4 316.6,83.2 318.9,82.8 320.6,81.2 322.1,79.9 321.2,77.6 322.6,76.2 322.6,74.0 324.9,72.4 324.6,70.1 326.4,68.5 326.6,66.1 328.0,65.1 327.9,62.9 329.6,62.1 330.7,60.5 332.6,60.1 333.9,59.0 335.6,59.1 337.1,58.0 338.6,59.1 338.9,57.1 340.6,56.1 341.3,53.8 343.6,53.1 344.8,51.4 347.3,51.8 348.6,50.1 350.9,49.7 352.6,48.1 354.7,47.9 355.5,45.4 357.6,45.1 358.6,43.6 360.9,43.9 361.7,42.1 363.6,41.8 364.0,39.6 365.7,39.1 366.4,36.8 368.7,36.1 369.1,34.2 370.7,33.1 370.8,30.6 372.7,29.1 374.7,28.1 374.5,29.8 375.7,31.1 374.5,32.6 375.2,34.7 373.7,36.1 373.4,38.2 370.9,38.9 370.7,41.1 368.7,42.3 368.6,44.9 366.7,46.1 365.9,48.0 363.5,48.2 362.7,50.1 360.8,50.3 360.6,52.9 358.7,53.1 357.8,54.7 355.6,54.6 354.6,56.1 352.9,56.7 352.5,58.8 350.6,59.1 349.7,60.9 347.2,61.0 346.6,63.1 344.9,64.2 344.6,66.1 346.6,67.2 348.6,66.1 349.7,68.0 351.6,69.1 350.6,70.8 352.2,72.4 351.6,74.1 351.9,75.9 350.2,77.4 350.6,79.2 351.0,81.2 353.3,82.1 353.6,84.2 354.9,86.0 354.6,88.2 354.4,90.6 352.6,92.2 351.6,93.7 349.4,93.5 348.6,95.2 346.8,95.6 346.5,97.9 344.6,98.2 342.9,99.8 340.6,100.2 338.4,100.7 336.6,99.2 334.8,100.3 332.6,100.2 330.9,101.7 328.6,102.2 327.0,104.0 324.6,104.2 322.6,105.1 320.6,104.2 318.9,105.8 316.6,106.2 314.8,107.7 312.5,107.9 309.8,108.8 307.9,108.4 306.3,109.6 304.7,110.0 303.8,111.4 302.9,109.6 300.4,109.7 299.5,107.9 297.6,107.8 297.1,105.4 295.2,105.4 294.1,104.0 292.0,104.3 290.9,102.8 288.9,104.1 286.6,103.6 285.1,104.9 283.2,104.5 281.9,106.2 279.8,106.2 277.9,106.5 276.4,105.4 274.8,106.5 272.9,106.2 272.1,108.2 270.4,109.6 271.5,111.2 271.2,113.1 270.5,115.2 268.7,116.5 268.7,118.4 266.3,119.0 266.1,120.8 264.3,121.2 264.3,123.5 262.7,124.2 260.8,125.7 258.4,125.9 257.4,127.4 255.2,127.1 254.1,128.5 252.6,127.3 250.7,127.6 248.7,126.1 246.4,126.8 244.9,125.6 243.0,125.9 241.2,126.2 240.6,128.4 238.7,128.5 238.0,130.4 236.1,131.0 235.2,132.7 233.0,132.2 231.9,133.6 229.9,133.3 228.7,135.6 226.7,135.3 226.5,137.3 225.0,138.7 224.8,140.5 222.8,141.3 222.5,143.0 220.8,142.0 219.2,143.8 217.5,143.2 215.4,144.4 213.0,144.1 211.1,144.8 209.4,143.7 207.7,144.9 205.8,144.1 204.4,145.4 202.6,145.0 202.6,146.7 201.2,147.8 198.5,148.7 196.8,149.5 196.6,151.4 197.1,154.1 196.5,155.7 194.8,155.9 192.1,155.0 190.4,155.1 189.4,156.4 187.5,156.2 186.6,157.8 185.0,157.9 183.9,159.1 181.2,160.0 179.8,162.3 179.3,164.6 178.4,166.9 181.2,167.3 183.9,166.4 185.7,167.3 187.1,168.1 187.5,169.6 189.8,171.0 192.1,170.1 193.9,168.2 195.3,166.4 196.6,165.1 198.0,166.9 198.5,169.6 199.8,171.4 201.7,172.3 202.6,174.2 201.2,174.6 200.2,173.2 198.5,173.3 195.7,173.3 193.9,175.1 192.1,174.3 190.3,175.1 188.6,174.1 186.6,174.2 183.9,175.1 183.1,176.8 181.2,176.9 179.3,178.7 178.4,181.4 179.3,183.3 178.0,185.0 178.0,186.7 176.5,187.6 176.4,189.5 174.2,190.1 173.9,191.9 173.8,193.8 174.8,195.3 175.0,197.7 176.5,199.6 175.7,201.4 176.7,203.1 174.7,202.7 173.3,204.2 171.2,205.2 170.8,207.8 168.7,208.8 168.1,210.5 165.8,210.5 165.3,212.2 163.3,212.1 161.8,213.4 160.4,212.0 158.1,213.2 156.9,211.1 155.0,211.1 155.6,209.2 153.8,207.8 154.8,205.8 153.9,204.2 152.9,202.1 150.2,201.8 149.3,199.7 147.8,198.5 148.5,196.3 147.0,195.1 148.3,193.4 147.0,191.1 148.2,189.4 148.2,187.3 150.9,186.5 149.8,183.8 151.6,182.6 151.5,180.3 153.7,179.0 153.9,176.8 155.3,175.5 154.6,173.3 156.0,172.0 158.5,171.3 160.3,171.2 161.1,169.6 162.9,169.8 164.5,168.8 166.6,167.7 167.1,165.4 165.4,163.6 164.6,165.4 162.8,166.2 161.4,167.7 159.4,167.9 157.5,168.5 156.0,167.1 154.5,166.2 154.3,164.5 152.9,163.4 153.1,161.3 151.7,160.2 150.9,158.6 149.1,158.5 147.9,158.5 146.0,158.1 144.7,156.8 142.5,156.5 141.4,154.6 139.6,154.7 138.1,153.6 136.1,152.7 134.8,150.8 132.5,150.4 131.0,148.6 129.2,149.5 127.2,149.2 125.5,151.4 124.4,150.3 122.8,150.3 121.6,148.5 119.5,148.1 119.6,146.2"/><polygon points="129.3,104.5 130.5,102.8 129.3,100.5 131.3,98.9 131.0,96.8 133.4,97.4 135.3,95.9 136.9,96.9 138.7,96.8 140.1,98.3 142.1,97.7 142.7,100.0 144.7,101.1 144.3,103.1 146.8,104.2 146.4,106.2 147.4,107.8 146.0,109.8 147.3,111.4 145.5,111.5 144.7,113.1 143.8,111.4 142.1,110.5 140.7,109.1 138.7,109.6 136.4,109.3 134.4,110.5 131.9,109.6 129.9,109.0 129.3,107.1"/><polygon points="116.2,123.0 118.4,121.9 119.5,119.9 121.7,119.1 122.9,117.2 125.0,116.4 125.7,114.5 127.7,114.2 127.5,112.3 128.8,110.9 131.0,112.0 131.0,114.2 132.9,114.6 133.7,116.4 134.3,118.2 133.2,119.7 132.1,121.9 130.4,122.1 129.4,123.5 127.1,123.5 125.5,125.1 123.4,124.4 121.7,125.7 119.5,127.3 118.4,129.5 117.9,127.3 116.8,125.1"/><polygon points="172.9,84.0 174.7,84.6 176.4,84.0 176.0,86.2 177.2,88.2 177.9,90.4 179.8,91.7 180.5,93.5 182.4,94.2 183.0,95.8 185.4,95.8 185.8,97.7 188.0,98.3 189.2,100.2 191.3,101.3 191.8,103.6 192.4,105.6 190.9,107.1 189.7,109.0 187.5,109.6 185.1,109.5 183.2,107.9 181.1,107.1 179.8,105.4 177.7,104.2 177.2,101.9 176.4,100.0 177.4,97.8 176.4,95.9 176.5,93.8 174.4,92.2 174.7,90.0 173.1,88.6 172.9,86.5"/><polygon points="171.2,102.0 173.5,101.0 175.5,103.0 177.2,106.0 176.0,109.6 173.5,108.5 171.5,106.0"/><polygon points="334.6,45.0 336.3,43.7 335.2,41.2 337.0,40.0 337.2,38.1 339.8,38.0 340.0,36.0 341.7,36.1 343.0,35.0 343.3,37.0 345.0,38.0 346.3,40.1 348.6,41.0 347.2,42.7 347.0,45.0 345.2,45.7 345.6,48.1 344.0,49.0 342.8,50.5 341.0,50.0 338.8,50.2 337.0,49.0 335.1,47.4"/><polygon points="366.0,22.0 367.7,21.2 367.5,19.0 369.0,18.0 370.3,16.9 372.0,17.0 372.3,15.0 374.0,14.0 375.6,13.8 376.7,15.0 377.1,17.3 375.5,19.0 374.4,21.2 372.0,22.0 371.1,23.9 369.0,24.0 366.5,24.0"/><polygon points="129.9,221.4 131.7,222.0 132.8,219.9 134.5,220.2 136.3,221.3 136.3,223.6 137.9,224.8 140.2,225.9 142.4,224.8 143.6,226.1 145.9,225.5 147.0,227.1 148.9,227.0 149.7,229.4 151.6,229.3 153.3,230.5 155.6,229.4 157.3,230.5 158.8,231.7 158.3,233.8 159.6,235.1 160.2,236.7 162.4,236.9 163.0,238.5 164.8,238.9 164.7,241.3 166.4,241.9 164.0,241.9 161.8,243.0 160.7,241.1 158.3,240.5 157.3,238.5 155.5,239.2 154.4,237.2 152.7,237.3 150.6,236.0 148.2,236.2 146.1,234.7 143.6,235.1 142.4,233.4 139.9,233.6 139.0,231.6 136.5,232.1 134.5,230.5 132.2,231.5 129.9,230.5 128.7,228.3 128.8,225.9 128.3,223.4"/><polygon points="277.5,122.6 278.9,121.8 279.1,120.2 281.3,120.6 283.2,119.3 284.8,118.5 285.7,116.9 287.5,117.7 288.9,116.4 289.1,118.3 290.9,119.0 289.0,119.8 288.9,121.8 287.2,122.0 286.5,124.0 284.8,124.2 283.7,125.5 281.7,125.3 280.7,126.7 279.2,125.8 277.5,125.9 278.4,124.2"/><polygon points="272.0,126.8 271.7,127.8 270.9,128.4 269.8,128.4 269.0,127.8 268.7,126.8 269.0,125.7 269.8,125.1 270.9,125.1 271.7,125.7"/><polygon points="276.4,126.8 276.1,127.8 275.2,128.4 274.0,128.4 273.1,127.8 272.8,126.8 273.1,125.7 274.0,125.1 275.2,125.1 276.1,125.7"/><polygon points="231.9,124.7 231.3,125.9 229.8,126.7 228.0,126.7 226.5,125.9 225.9,124.7 226.5,123.4 228.0,122.6 229.8,122.6 231.3,123.4"/><polygon points="285.8,68.2 285.2,69.4 283.7,70.2 281.9,70.2 280.4,69.4 279.8,68.2 280.4,66.9 281.9,66.1 283.7,66.1 285.2,66.9"/><polygon points="290.9,68.6 290.4,69.4 289.6,69.4 289.1,68.6 289.6,67.8 290.4,67.8"/><polygon points="312.5,71.1 312.0,72.1 310.7,72.7 309.0,72.7 307.7,72.1 307.2,71.1 307.7,70.1 309.0,69.5 310.7,69.5 312.0,70.1"/><polygon points="277.3,82.3 276.8,83.1 275.9,83.1 275.5,82.3 275.9,81.5 276.8,81.5"/><polygon points="218.2,76.3 217.8,77.1 216.9,77.1 216.4,76.3 216.9,75.5 217.8,75.5"/><polygon points="228.5,78.0 228.0,78.8 227.2,78.8 226.7,78.0 227.2,77.2 228.0,77.2"/><polygon points="234.5,96.0 234.0,96.8 233.2,96.8 232.7,96.0 233.2,95.2 234.0,95.2"/><polygon points="288.4,110.9 287.9,111.7 286.5,112.1 284.9,112.1 283.5,111.7 283.0,110.9 283.5,110.1 284.9,109.7 286.5,109.7 287.9,110.1"/><polygon points="305.5,112.2 305.2,113.7 304.3,114.7 303.2,114.7 302.3,113.7 302.0,112.2 302.3,110.7 303.2,109.7 304.3,109.7 305.2,110.7"/><polygon points="200.6,87.0 200.3,89.8 199.6,91.5 198.6,91.5 197.9,89.8 197.6,87.0 197.9,84.2 198.6,82.5 199.6,82.5 200.3,84.2"/><polygon points="195.1,87.4 194.6,88.2 193.8,88.2 193.3,87.4 193.8,86.6 194.6,86.6"/><polygon points="207.9,87.4 207.4,88.2 206.6,88.2 206.1,87.4 206.6,86.6 207.4,86.6"/><polygon points="219.5,84.7 219.2,86.0 218.5,86.9 217.5,86.9 216.8,86.0 216.5,84.7 216.8,83.3 217.5,82.4 218.5,82.4 219.2,83.3"/><polygon points="220.7,90.2 220.3,91.6 219.4,92.4 218.3,92.4 217.4,91.6 217.0,90.2 217.4,88.9 218.3,88.1 219.4,88.1 220.3,88.9"/><polygon points="206.2,91.7 205.8,92.5 204.9,92.5 204.4,91.7 204.9,90.9 205.8,90.9"/><polygon points="148.2,90.8 147.8,91.6 146.9,91.6 146.4,90.8 146.9,90.0 147.8,90.0"/><polygon points="149.0,98.5 148.5,99.3 147.7,99.3 147.2,98.5 147.7,97.7 148.5,97.7"/><polygon points="200.4,78.8 199.9,79.6 199.1,79.6 198.6,78.8 199.1,78.0 199.9,78.0"/><polygon points="205.5,80.5 205.0,81.3 204.2,81.3 203.7,80.5 204.2,79.7 205.0,79.7"/><polygon points="207.2,87.4 206.8,88.2 205.9,88.2 205.4,87.4 205.9,86.6 206.8,86.6"/><polygon points="207.2,90.8 206.8,91.6 205.9,91.6 205.4,90.8 205.9,90.0 206.8,90.0"/><polygon points="110.5,143.9 110.0,144.7 109.1,144.7 108.7,143.9 109.1,143.1 110.0,143.1"/><polygon points="128.5,133.6 128.0,134.4 127.1,134.4 126.7,133.6 127.1,132.8 128.0,132.8"/><polygon points="135.3,132.7 134.8,133.5 134.0,133.5 133.5,132.7 134.0,131.9 134.8,131.9"/><polygon points="359.7,68.5 359.4,69.4 358.7,69.9 357.7,69.9 357.0,69.4 356.7,68.5 357.0,67.6 357.7,67.1 358.7,67.1 359.4,67.6"/><polygon points="356.5,78.2 356.1,79.0 355.2,79.0 354.7,78.2 355.2,77.4 356.1,77.4"/><polygon points="332.5,54.1 332.1,54.9 331.2,54.9 330.7,54.1 331.2,53.3 332.1,53.3"/><polygon points="366.7,30.5 366.2,32.0 365.0,32.9 363.4,32.9 362.2,32.0 361.7,30.5 362.2,29.0 363.4,28.1 365.0,28.1 366.2,29.0"/><polygon points="168.5,246.5 168.0,247.3 167.2,247.3 166.7,246.5 167.2,245.7 168.0,245.7"/><polygon points="139.0,212.2 138.6,212.9 137.4,213.3 136.1,213.3 134.9,212.9 134.5,212.2 134.9,211.5 136.1,211.1 137.4,211.1 138.6,211.5"/><polygon points="145.9,213.9 145.5,215.6 144.3,216.7 142.9,216.7 141.7,215.6 141.3,213.9 141.7,212.2 142.9,211.1 144.3,211.1 145.5,212.2"/><polygon points="152.7,221.9 151.8,222.9 149.6,223.5 146.7,223.5 144.5,222.9 143.6,221.9 144.5,220.9 146.7,220.3 149.6,220.3 151.8,220.9"/><polygon points="127.6,189.9 127.0,191.6 125.3,192.7 123.1,192.7 121.4,191.6 120.8,189.9 121.4,188.3 123.1,187.2 125.3,187.2 127.0,188.3"/><polygon points="111.4,187.1 111.0,187.9 110.0,187.9 109.6,187.1 110.0,186.3 111.0,186.3"/><polygon points="209.5,203.1 209.0,203.9 208.2,203.9 207.7,203.1 208.2,202.3 209.0,202.3"/><polygon points="210.7,214.5 210.2,215.3 209.4,215.3 208.9,214.5 209.4,213.7 210.2,213.7"/><polygon points="215.5,220.2 215.1,222.2 213.9,223.4 212.5,223.4 211.3,222.2 210.9,220.2 211.3,218.2 212.5,217.0 213.9,217.0 215.1,218.2"/><polygon points="201.5,225.9 201.0,226.7 200.2,226.7 199.7,225.9 200.2,225.1 201.0,225.1"/><polygon points="207.3,222.5 206.8,223.3 206.0,223.3 205.5,222.5 206.0,221.7 206.8,221.7"/><polygon points="218.7,229.3 218.2,230.1 217.4,230.1 216.9,229.3 217.4,228.5 218.2,228.5"/><polygon points="232.6,227.6 232.1,228.6 230.6,229.2 228.9,229.2 227.4,228.6 226.9,227.6 227.4,226.6 228.9,226.0 230.6,226.0 232.1,226.6"/><polygon points="240.4,216.8 239.9,217.6 239.1,217.6 238.6,216.8 239.1,216.0 239.9,216.0"/><polygon points="191.5,181.2 191.3,182.6 190.7,183.4 190.0,183.4 189.4,182.6 189.2,181.2 189.4,179.9 190.0,179.1 190.7,179.1 191.3,179.9"/><polygon points="193.8,186.2 193.6,187.4 193.0,188.2 192.3,188.2 191.7,187.4 191.5,186.2 191.7,184.9 192.3,184.1 193.0,184.1 193.6,184.9"/><polygon points="203.8,173.4 203.3,174.2 202.5,174.2 202.0,173.4 202.5,172.6 203.3,172.6"/><polygon points="109.8,144.0 109.4,144.8 108.5,144.8 108.0,144.0 108.5,143.2 109.4,143.2"/><polygon points="110.7,187.6 110.2,188.4 109.3,188.4 108.9,187.6 109.3,186.8 110.2,186.8"/><polygon points="181.7,180.0 181.2,180.8 180.4,180.8 179.9,180.0 180.4,179.2 181.2,179.2"/><polygon points="177.0,194.5 176.8,195.4 176.1,195.9 175.4,195.9 174.7,195.4 174.5,194.5 174.7,193.6 175.4,193.1 176.1,193.1 176.8,193.6"/><polygon points="146.6,197.0 146.1,197.8 145.2,197.8 144.8,197.0 145.2,196.2 146.1,196.2"/><polygon points="198.9,158.7 201.2,161.9 198.9,165.1 196.6,161.9"/><polygon points="199.4,153.2 199.2,154.9 198.8,155.9 198.2,155.9 197.8,154.9 197.6,153.2 197.8,151.6 198.2,150.6 198.8,150.6 199.2,151.6"/><polygon points="177.5,158.9 177.2,160.4 176.4,161.3 175.4,161.3 174.6,160.4 174.3,158.9 174.6,157.4 175.4,156.5 176.4,156.5 177.2,157.4"/><polygon points="177.5,169.6 177.3,171.2 176.9,172.2 176.3,172.2 175.9,171.2 175.7,169.6 175.9,168.0 176.3,167.0 176.9,167.0 177.3,168.0"/><polygon points="185.2,162.3 184.8,163.1 183.9,163.1 183.4,162.3 183.9,161.5 184.8,161.5"/><polygon points="191.6,165.1 191.4,165.6 190.8,166.0 190.2,166.0 189.6,165.6 189.4,165.1 189.6,164.5 190.2,164.1 190.8,164.1 191.4,164.5"/><polygon points="189.4,179.6 188.9,180.4 188.1,180.4 187.6,179.6 188.1,178.8 188.9,178.8"/><polygon points="191.2,182.4 190.8,183.2 189.9,183.2 189.4,182.4 189.9,181.6 190.8,181.6"/><polygon points="182.1,179.6 181.6,180.4 180.8,180.4 180.3,179.6 180.8,178.8 181.6,178.8"/><polygon points="231.1,125.3 230.4,126.4 228.8,126.9 227.2,126.4 226.5,125.3 227.2,124.2 228.8,123.7 230.4,124.2"/><polygon points="321.8,82.5 321.3,83.3 320.4,83.3 320.0,82.5 320.4,81.7 321.3,81.7"/><polygon points="349.6,77.0 349.1,77.8 348.2,77.8 347.8,77.0 348.2,76.2 349.1,76.2"/></g></g>
<g clip-path="url(#clip01)"><use href="#bgmap" stroke="none" transform="translate(0,255.5)"/><g transform="translate(0,255.9)"><polygon points="129.9,144.6 131.5,143.8 133.3,144.4 134.0,146.2 134.6,144.3 136.5,143.8 137.5,141.8 139.7,141.3 142.2,140.5 142.9,142.1 144.6,142.1 146.5,141.9 147.9,140.5 149.8,139.8 149.5,137.3 151.2,136.4 153.7,137.2 155.4,137.2 156.1,135.6 157.5,136.9 159.4,136.4 161.6,137.0 163.5,135.6 165.2,135.3 165.9,133.3 167.6,133.1 168.2,131.2 170.1,130.7 171.5,129.4 173.3,129.8 174.7,128.5 176.6,129.0 177.9,127.6 179.9,127.4 181.0,125.6 183.0,125.7 183.4,123.5 184.8,121.8 186.1,120.2 188.1,120.2 189.6,119.1 191.4,119.3 193.0,118.8 194.7,120.2 196.3,119.3 198.2,120.3 200.4,120.2 202.2,120.4 203.7,119.3 205.4,118.6 206.1,116.9 205.9,114.6 204.5,112.8 205.5,110.9 205.3,108.7 205.4,106.9 204.5,105.4 203.4,103.4 201.2,102.9 200.4,101.3 198.8,100.5 198.9,98.7 197.9,97.2 199.7,97.3 201.2,96.4 203.4,97.0 205.3,95.6 207.7,95.5 209.4,93.9 211.2,93.9 211.9,92.3 211.8,94.1 213.5,94.7 214.2,96.5 216.0,97.2 216.7,99.0 218.4,99.7 220.1,101.3 221.6,102.6 221.7,104.6 224.2,105.4 226.0,105.6 227.4,104.6 229.3,105.8 231.5,105.4 232.5,107.5 234.8,107.9 235.5,109.7 237.3,110.3 237.3,112.8 236.7,114.7 234.8,115.2 235.4,117.1 234.0,118.5 235.9,119.1 236.5,121.0 238.0,121.7 238.1,123.4 239.6,124.2 239.7,125.9 240.6,127.5 239.3,128.4 238.9,130.0 237.1,129.7 235.6,130.8 233.2,131.6 234.8,132.3 234.8,134.1 236.6,134.8 237.3,136.5 236.5,138.2 234.6,137.3 232.6,138.9 230.7,138.2 228.7,138.1 227.4,136.5 226.1,135.7 225.8,134.1 225.8,135.8 224.2,136.5 224.7,138.4 223.3,139.8 222.4,141.1 220.9,141.5 220.1,143.0 218.4,143.1 216.9,144.1 215.2,143.9 213.8,145.3 211.9,144.7 210.1,144.9 208.6,143.9 207.5,146.1 205.6,144.3 203.3,145.2 202.9,148.0 203.7,149.5 203.3,151.2 204.1,153.6 202.9,155.9 201.5,154.5 200.9,152.5 199.1,151.7 196.4,151.2 194.5,153.1 192.9,153.0 191.7,154.0 190.1,153.7 188.9,154.9 187.1,154.7 186.2,156.3 184.5,156.5 183.4,157.7 181.6,157.6 180.6,159.1 179.0,158.9 177.8,160.0 175.5,161.4 176.0,163.7 175.7,165.3 176.9,166.5 176.9,169.3 178.7,168.8 180.6,167.0 181.2,165.3 182.9,164.7 184.6,165.1 185.7,166.5 187.3,166.9 188.0,168.4 190.3,169.8 192.0,169.5 192.7,167.9 194.4,167.7 195.0,166.1 197.3,165.1 198.2,167.0 198.7,169.3 200.1,171.2 201.0,172.1 199.1,173.9 197.5,173.6 196.4,174.9 194.7,175.1 193.6,176.3 190.8,175.8 189.1,176.2 188.0,174.9 185.2,174.4 182.5,174.9 180.6,176.3 179.2,178.6 179.4,180.2 178.3,181.4 179.0,183.3 177.8,185.0 177.6,186.8 176.3,188.1 175.7,189.9 173.9,190.4 173.7,192.2 172.4,193.5 173.9,195.1 173.9,197.3 175.7,198.4 176.3,200.4 176.2,202.6 174.7,204.3 173.5,205.8 171.6,205.8 171.7,207.8 170.1,208.9 169.8,210.7 168.6,212.0 167.2,213.2 165.3,211.6 163.9,212.7 161.9,212.5 160.1,213.5 157.8,212.7 156.1,213.2 154.7,212.0 153.7,209.9 155.4,207.9 154.7,205.8 154.9,203.5 153.2,202.0 152.3,200.5 150.1,200.5 149.3,198.9 147.3,197.8 146.2,195.8 145.7,194.0 147.0,192.7 147.6,190.7 149.3,189.6 150.5,188.2 152.8,189.0 153.9,187.3 155.9,186.7 157.0,185.0 155.5,183.5 153.8,183.0 153.2,181.4 153.7,179.5 155.6,178.6 156.4,176.9 158.3,176.7 159.7,174.9 157.6,174.5 155.6,175.3 154.2,173.9 155.1,171.6 157.4,171.2 159.3,169.8 157.4,167.9 155.8,167.3 155.6,165.6 154.1,164.6 154.2,162.8 152.8,160.5 151.8,159.1 150.0,159.1 147.9,157.7 145.8,157.7 144.6,156.1 142.7,156.6 141.4,155.2 139.8,154.4 138.9,152.8 137.1,152.8 136.5,151.1 134.3,151.5 132.4,150.3 130.8,149.6 130.7,147.9 129.4,146.5"/><polygon points="241.4,124.2 241.6,126.2 243.0,127.5 244.7,129.3 247.1,129.2 249.2,129.3 250.4,127.5 251.8,128.9 253.7,128.3 255.5,128.8 256.9,127.5 259.0,127.6 260.2,125.9 261.5,124.9 261.9,123.4 263.7,122.8 264.3,121.0 266.0,120.2 266.8,118.5 268.7,118.2 269.5,116.5 271.4,115.0 272.5,112.9 270.8,111.2 269.2,109.0 268.4,106.9 269.5,106.0 271.4,104.9 273.0,105.2 274.1,106.9 275.3,108.0 275.2,109.6 277.4,110.1 278.0,108.5 279.6,107.4 281.4,107.3 282.3,105.8 285.0,104.9 286.5,104.6 288.2,104.4 288.9,102.9 290.6,102.8 291.4,101.3 292.5,103.3 294.7,103.8 295.8,105.5 297.9,105.4 298.2,107.0 299.6,107.9 300.1,109.8 302.0,110.3 304.5,109.5 307.0,110.3 308.9,109.8 309.4,107.9 311.1,107.7 311.9,106.2 314.3,106.2 315.2,104.9 316.8,104.6 319.2,103.8 321.7,102.9 322.5,101.4 324.2,101.3 325.6,100.0 327.4,100.5 328.8,99.1 330.7,99.3 333.2,98.8 334.7,99.8 336.5,99.7 337.2,101.2 338.9,101.3 340.5,102.0 342.2,101.3 343.8,99.7 345.5,98.7 347.1,99.7 347.3,97.8 348.7,96.4 349.4,94.6 351.2,93.9 351.4,92.3 352.8,91.5 353.3,89.5 355.3,89.0 354.4,87.2 355.7,85.1 354.5,83.3 354.8,81.5 353.7,80.0 351.2,80.3 349.4,79.1 348.7,77.0 349.0,75.1 350.4,73.7 350.0,71.9 351.2,70.5 349.8,69.1 350.4,67.2 348.7,65.6 346.6,65.5 345.5,67.2 343.8,66.4 344.6,63.9 346.6,63.4 347.1,61.5 348.8,61.3 349.6,59.8 351.5,59.6 352.8,58.2 354.8,58.1 356.1,56.5 358.1,56.5 359.4,54.9 361.0,54.7 361.9,53.3 363.9,52.3 364.3,50.0 366.0,48.7 366.8,46.7 368.5,45.4 369.2,43.4 370.6,42.4 370.3,40.3 371.7,39.3 372.0,37.0 373.3,35.2 373.1,33.4 374.1,32.0 372.7,31.1 372.5,29.5 371.7,28.7 369.6,29.7 369.2,32.0 367.4,33.1 366.8,35.2 364.9,36.3 364.3,38.5 362.6,39.3 361.9,41.0 360.0,41.2 358.6,42.6 356.9,42.7 356.1,44.2 354.3,44.3 353.7,46.4 352.0,46.7 351.3,48.2 349.6,48.3 349.3,50.0 347.2,50.6 347.1,52.4 345.1,52.9 344.2,55.1 342.2,55.7 341.3,57.0 339.7,57.4 338.1,59.0 336.2,57.7 334.0,58.2 332.0,58.3 330.7,59.8 328.6,61.0 327.4,63.1 326.0,65.0 326.6,67.2 325.4,68.6 326.2,70.7 325.0,72.1 324.9,73.9 323.2,75.1 323.3,77.0 322.0,78.4 323.2,80.6 321.7,81.9 320.8,83.3 319.2,83.6 318.1,85.4 316.0,86.0 314.1,86.6 312.1,85.1 310.2,86.0 307.8,85.2 306.0,84.0 305.3,81.9 303.1,80.8 302.0,78.7 299.6,77.8 297.5,79.0 296.3,81.1 294.2,81.1 293.5,83.7 291.4,83.6 289.5,84.6 287.3,84.4 286.5,85.8 284.8,86.0 283.1,86.3 281.7,84.6 279.9,85.2 278.3,84.2 276.6,85.8 275.0,85.2 274.7,85.5 273.0,87.2 270.8,88.8 268.7,90.5 269.8,92.1 269.5,93.8 270.8,94.8 269.2,95.9 266.5,96.7 265.4,98.1 266.6,99.5 266.5,101.4 267.8,103.9 265.9,104.1 264.6,105.2 264.6,103.2 263.2,101.7 260.5,101.4 259.4,102.9 257.6,103.6 256.9,105.4 255.3,105.6 254.5,107.0 252.9,107.8 252.8,109.5 251.1,110.3 250.4,112.0 248.9,113.2 248.7,115.2 247.1,114.4 245.7,113.6 245.5,112.0 243.8,112.8 243.1,114.8 243.8,116.9 244.2,118.4 245.5,119.3 243.7,120.0 243.0,121.8 241.7,122.7"/><polygon points="336.5,47.5 338.4,46.4 338.9,44.2 340.6,42.5 341.4,40.2 342.6,38.8 342.2,36.9 344.6,36.1 346.3,37.7 345.3,39.3 347.3,41.0 346.3,42.6 346.1,44.4 343.9,44.9 343.8,46.7 342.1,47.5 341.4,49.2 339.6,49.8 338.9,51.6 337.3,50.8 336.3,49.3"/><polygon points="126.0,104.5 127.1,102.9 126.5,101.1 128.2,100.2 128.8,98.3 130.9,97.5 131.7,95.4 132.9,96.5 134.5,96.5 136.3,96.8 137.4,95.4 138.8,96.9 140.8,97.1 141.7,99.1 143.7,100.0 143.7,101.6 144.8,102.8 145.1,104.4 146.5,105.1 145.6,106.7 146.0,108.5 146.5,110.8 146.3,112.8 144.8,114.2 142.5,113.1 142.4,111.4 140.8,110.8 139.3,109.5 137.4,109.7 135.6,108.4 133.4,109.1 132.1,108.0 130.5,108.5 129.1,107.1 127.1,106.8"/><polygon points="116.3,123.4 116.8,122.2 118.3,120.8 120.3,120.5 120.9,118.6 122.6,117.7 123.3,116.1 125.4,115.9 126.0,114.2 128.3,113.7 130.1,113.1 131.7,114.2 132.8,116.5 132.3,118.1 133.4,119.4 132.0,120.8 131.7,122.8 129.9,122.4 128.3,123.4 126.3,123.7 124.8,125.1 122.6,125.7 120.3,126.8 118.0,127.9 116.8,125.7"/><polygon points="159.1,117.1 161.3,116.2 162.5,114.2 164.6,114.2 165.9,112.5 167.4,113.6 169.3,113.7 171.0,115.4 173.3,116.0 175.0,118.2 175.0,120.0 173.3,120.5 171.7,122.4 169.3,122.8 168.0,123.7 166.5,123.4 164.5,123.2 163.1,121.7 161.0,120.9 160.2,118.8"/><polygon points="169.3,104.5 170.8,103.5 171.1,101.7 173.3,100.3 174.7,101.2 175.0,102.8 175.9,104.4 175.6,106.2 174.5,108.0 172.2,108.0 170.4,107.9 169.9,106.2"/><polygon points="173.4,82.3 175.1,83.4 176.2,85.0 175.7,86.8 177.6,88.2 178.6,90.3 180.3,90.6 181.4,92.0 182.8,93.1 183.1,94.8 185.3,96.0 186.0,98.3 188.2,98.7 189.4,100.5 191.0,101.1 191.1,102.8 191.7,104.2 191.1,105.7 190.5,107.4 188.8,108.0 188.0,109.5 186.5,110.2 183.7,109.7 183.0,108.1 181.4,107.4 180.6,105.4 178.6,104.5 178.8,102.7 178.0,101.1 178.0,98.9 176.8,97.1 176.9,94.9 174.6,93.6 174.6,91.4 173.4,90.1 174.2,88.0 172.9,86.8 173.5,85.2 172.3,84.0"/><polygon points="122.5,147.0 125.0,144.9 128.3,146.2 129.1,149.5 126.6,151.1 123.3,151.1 121.7,149.2"/><polygon points="118.4,188.0 120.9,187.2 127.4,187.5 128.3,189.6 124.2,190.8 121.7,192.1 118.9,191.3"/><polygon points="128.5,220.4 130.8,220.4 132.4,221.1 133.1,222.8 135.0,222.8 136.2,224.3 138.5,225.8 140.8,224.3 141.6,223.5 143.1,225.8 144.9,226.1 146.2,227.4 148.1,227.5 149.3,228.9 151.2,228.3 153.2,228.9 154.7,231.2 156.0,232.5 157.8,232.8 157.5,234.5 158.5,235.9 156.7,236.1 155.5,237.4 153.8,237.1 152.4,238.2 151.4,236.3 149.3,235.9 148.0,234.6 146.2,234.3 144.9,233.1 143.1,233.5 141.4,233.3 140.1,234.3 139.0,232.7 137.0,232.8 134.9,232.3 133.1,233.5 131.7,232.5 130.0,232.8 130.1,230.8 128.5,229.7 129.8,227.9 129.3,225.8 129.4,224.2 128.5,222.8"/><polygon points="277.5,122.6 279.1,121.9 279.1,120.2 281.3,120.5 283.2,119.3 285.0,118.7 285.7,116.9 287.5,117.6 288.9,116.4 289.4,118.1 290.9,119.0 289.3,119.9 288.9,121.8 287.1,121.9 286.7,124.3 284.8,124.2 283.7,125.5 281.8,125.4 280.7,126.7 279.3,125.6 277.5,125.9 278.5,124.2"/><polygon points="231.1,125.3 230.4,126.4 228.8,126.9 227.2,126.4 226.5,125.3 227.2,124.2 228.8,123.7 230.4,124.2"/><polygon points="164.8,167.0 164.5,167.8 163.8,168.3 163.0,168.3 162.3,167.8 162.0,167.0 162.3,166.2 163.0,165.7 163.8,165.7 164.5,166.2"/><polygon points="167.6,163.8 167.3,164.5 166.6,165.0 165.8,165.0 165.1,164.5 164.8,163.8 165.1,163.0 165.8,162.5 166.6,162.5 167.3,163.0"/><polygon points="175.8,158.4 175.6,159.6 175.0,160.4 174.2,160.4 173.6,159.6 173.4,158.4 173.6,157.2 174.2,156.4 175.0,156.4 175.6,157.2"/><polygon points="197.9,158.2 200.5,160.5 198.2,164.7 195.4,162.0"/><polygon points="233.0,226.8 232.4,228.2 230.8,229.0 228.7,229.0 227.1,228.2 226.5,226.8 227.1,225.4 228.7,224.6 230.8,224.6 232.4,225.4"/><polygon points="276.6,103.6 276.2,104.2 275.4,104.2 275.0,103.6 275.4,103.0 276.2,103.0"/><polygon points="321.5,82.5 321.2,83.0 320.6,83.0 320.3,82.5 320.6,82.0 321.2,82.0"/><polygon points="349.3,77.0 349.0,77.5 348.4,77.5 348.1,77.0 348.4,76.5 349.0,76.5"/><polygon points="199.8,81.5 199.3,82.3 198.5,82.3 198.0,81.5 198.5,80.7 199.3,80.7"/><polygon points="216.9,86.0 216.4,86.8 215.6,86.8 215.1,86.0 215.6,85.2 216.4,85.2"/><polygon points="234.0,100.9 233.5,101.7 232.7,101.7 232.2,100.9 232.7,100.1 233.5,100.1"/><polygon points="227.5,122.8 227.1,123.8 225.9,124.4 224.6,124.4 223.4,123.8 223.0,122.8 223.4,121.7 224.6,121.1 225.9,121.1 227.1,121.7"/><polygon points="214.6,124.9 214.1,125.7 213.2,125.7 212.8,124.9 213.2,124.1 214.1,124.1"/><polygon points="196.9,124.5 196.4,125.3 195.6,125.3 195.1,124.5 195.6,123.7 196.4,123.7"/><polygon points="199.9,126.5 199.4,127.3 198.6,127.3 198.1,126.5 198.6,125.7 199.4,125.7"/><polygon points="197.9,130.0 197.4,130.8 196.6,130.8 196.1,130.0 196.6,129.2 197.4,129.2"/><polygon points="200.9,133.0 200.4,133.8 199.6,133.8 199.1,133.0 199.6,132.2 200.4,132.2"/><polygon points="164.4,139.7 163.9,140.5 163.1,140.5 162.6,139.7 163.1,138.9 163.9,138.9"/><polygon points="150.7,151.1 150.2,151.9 149.4,151.9 148.9,151.1 149.4,150.3 150.2,150.3"/><polygon points="135.9,131.0 135.4,131.8 134.6,131.8 134.1,131.0 134.6,130.2 135.4,130.2"/><polygon points="139.9,133.0 139.4,133.8 138.6,133.8 138.1,133.0 138.6,132.2 139.4,132.2"/><polygon points="115.9,145.0 115.5,145.8 114.5,145.8 114.1,145.0 114.5,144.2 115.5,144.2"/><polygon points="119.9,143.0 119.5,143.8 118.5,143.8 118.1,143.0 118.5,142.2 119.5,142.2"/><polygon points="122.9,146.5 122.5,147.3 121.5,147.3 121.1,146.5 121.5,145.7 122.5,145.7"/><polygon points="125.9,148.0 125.5,148.8 124.5,148.8 124.1,148.0 124.5,147.2 125.5,147.2"/><polygon points="198.9,151.0 198.4,151.8 197.6,151.8 197.1,151.0 197.6,150.2 198.4,150.2"/><polygon points="200.9,153.5 200.4,154.3 199.6,154.3 199.1,153.5 199.6,152.7 200.4,152.7"/><polygon points="197.9,159.0 197.4,159.8 196.6,159.8 196.1,159.0 196.6,158.2 197.4,158.2"/><polygon points="199.9,162.0 199.4,162.8 198.6,162.8 198.1,162.0 198.6,161.2 199.4,161.2"/><polygon points="194.0,181.9 193.5,182.7 192.7,182.7 192.2,181.9 192.7,181.1 193.5,181.1"/><polygon points="123.0,187.8 122.7,188.8 121.8,189.4 120.7,189.4 119.8,188.8 119.5,187.8 119.8,186.7 120.7,186.1 121.8,186.1 122.7,186.7"/><polygon points="339.0,39.5 338.7,40.4 337.8,40.9 336.7,40.9 335.8,40.4 335.5,39.5 335.8,38.6 336.7,38.1 337.8,38.1 338.7,38.6"/><polygon points="340.1,46.0 339.6,46.8 338.8,46.8 338.3,46.0 338.8,45.2 339.6,45.2"/><polygon points="351.5,46.0 351.1,46.8 350.2,46.8 349.7,46.0 350.2,45.2 351.1,45.2"/><polygon points="364.5,17.5 366.2,17.5 367.4,16.3 368.1,17.8 369.7,18.0 371.4,16.9 371.6,15.3 373.1,14.6 374.8,12.9 376.0,14.0 376.0,16.0 374.2,16.9 374.1,18.6 372.5,19.2 370.2,20.3 368.0,19.2 365.7,19.7 364.5,18.6"/><polygon points="283.2,66.6 282.8,67.4 281.9,67.4 281.4,66.6 281.9,65.8 282.8,65.8"/><polygon points="230.8,98.4 230.3,99.2 229.5,99.2 229.0,98.4 229.5,97.6 230.3,97.6"/></g></g>
<g clip-path="url(#clip11)"><use href="#bgmap" stroke="none" transform="translate(318.3,255.5)"/><g transform="translate(317.6,256.2)"><polygon points="118.4,144.8 120.1,143.7 121.7,142.6 122.3,140.8 121.2,139.3 121.8,137.7 121.2,136.1 122.8,134.4 124.4,136.1 125.5,138.3 126.6,140.4 127.7,142.1 129.4,141.5 130.5,143.2 132.6,143.7 134.8,143.2 137.0,142.1 139.2,141.0 140.3,139.3 141.4,137.2 140.3,135.0 141.4,132.8 143.6,133.3 145.2,132.8 146.8,133.9 147.4,136.1 149.0,137.2 151.2,136.1 152.6,134.9 154.5,135.0 156.1,132.8 157.8,133.9 158.9,136.1 159.5,136.3 162.1,135.6 163.5,134.5 162.9,132.2 164.5,131.2 165.7,129.5 167.8,129.3 170.4,128.6 172.9,128.0 173.7,126.4 175.5,126.7 178.0,126.1 179.7,125.6 180.6,124.1 183.1,123.5 183.9,121.6 185.8,120.8 186.8,119.5 188.4,119.1 189.9,118.0 191.8,118.2 193.1,116.6 195.2,116.5 196.6,115.1 198.6,114.8 200.6,115.1 202.1,116.5 202.8,114.9 204.6,114.8 204.7,113.0 206.3,112.2 204.6,111.4 203.8,109.6 202.2,108.3 202.1,106.2 200.3,104.4 200.3,101.9 199.4,100.3 200.6,98.3 199.3,96.8 201.5,96.8 202.8,95.1 204.3,96.3 206.2,96.0 208.2,95.7 209.6,94.2 210.5,96.0 212.8,95.3 213.9,96.8 215.7,98.1 216.5,100.2 218.1,100.9 218.0,103.2 219.9,103.6 221.1,105.6 223.3,106.2 225.2,106.8 226.7,105.4 229.3,104.5 230.1,102.9 231.9,102.8 233.6,101.9 233.7,104.0 235.3,105.4 234.2,107.5 235.3,109.6 235.5,111.7 237.0,113.1 235.4,114.4 236.2,117.0 234.4,118.2 236.0,119.5 236.1,121.6 238.0,121.6 238.7,123.3 240.2,122.1 242.1,122.5 243.4,120.8 245.6,120.8 246.5,119.5 248.1,119.1 247.3,116.5 245.9,115.0 243.9,114.8 245.6,113.1 246.9,111.3 249.3,111.3 250.7,109.6 252.8,108.9 254.1,107.1 256.2,106.3 257.5,104.5 259.7,103.8 261.0,101.9 263.5,101.1 266.1,100.2 267.8,98.9 267.8,96.8 269.3,95.4 269.5,93.4 271.4,92.2 272.1,90.0 273.9,89.2 274.7,87.4 276.3,87.1 277.2,85.7 279.4,86.8 281.5,85.7 283.6,86.6 285.8,85.7 288.1,86.1 290.1,84.8 291.9,84.5 292.5,82.2 294.5,82.2 295.7,80.9 297.8,81.4 298.5,79.0 300.5,79.2 302.9,79.4 304.5,81.2 306.4,81.9 306.5,84.5 308.5,85.2 309.3,87.0 311.8,86.4 312.6,88.2 313.4,86.1 315.7,85.2 316.6,83.2 318.9,82.8 320.6,81.2 321.9,79.8 321.3,77.6 322.6,76.2 322.3,73.8 324.9,72.5 324.6,70.1 326.2,68.4 326.6,66.1 328.3,65.3 328.0,63.0 329.6,62.1 330.5,60.2 332.6,60.1 333.8,58.8 335.6,59.1 337.1,58.4 338.6,59.1 339.0,57.2 340.6,56.1 341.5,54.0 343.6,53.1 344.9,51.5 347.4,51.8 348.6,50.1 351.1,50.0 352.6,48.1 354.7,47.8 355.6,45.5 357.6,45.1 358.3,43.2 360.8,43.8 361.7,42.1 363.4,41.6 364.0,39.6 365.7,39.1 366.8,37.2 368.7,36.1 369.0,34.1 370.7,33.1 370.8,30.7 372.7,29.1 374.7,28.1 374.5,29.8 375.7,31.1 374.5,32.5 375.1,34.7 373.7,36.1 373.6,38.3 371.0,39.0 370.7,41.1 368.5,42.1 368.8,45.1 366.7,46.1 365.8,47.8 363.4,48.1 362.7,50.1 360.8,50.4 360.5,52.8 358.7,53.1 357.7,54.7 355.4,54.4 354.6,56.1 352.9,56.6 352.4,58.7 350.6,59.1 349.8,61.0 347.2,61.0 346.6,63.1 344.7,64.0 344.6,66.1 346.6,66.8 348.6,66.1 349.5,68.2 351.6,69.1 351.0,70.8 352.7,72.4 351.6,74.1 352.3,76.0 350.2,77.4 350.6,79.2 350.8,81.3 353.4,82.1 353.6,84.2 354.7,86.0 354.6,88.2 354.5,90.6 352.6,92.2 351.8,93.9 349.3,93.4 348.6,95.2 346.8,95.5 346.3,97.6 344.6,98.2 342.9,99.9 340.6,100.2 338.5,100.2 336.6,99.2 334.9,100.7 332.6,100.2 331.1,102.1 328.6,102.2 327.1,104.1 324.6,104.2 322.6,104.9 320.6,104.2 318.9,105.7 316.6,106.2 314.9,108.0 312.5,107.9 309.8,108.8 307.8,108.2 306.3,109.6 304.7,110.0 303.8,111.4 302.9,109.6 300.6,109.5 299.5,107.9 297.6,107.9 297.1,105.4 295.2,105.4 294.1,104.0 291.9,104.4 290.9,102.8 288.9,104.0 286.6,103.6 285.1,104.7 283.2,104.5 282.0,106.3 279.8,106.2 277.9,106.6 276.4,105.4 274.8,106.4 272.9,106.2 272.3,108.4 270.4,109.6 271.7,111.1 271.2,113.1 270.5,115.2 268.7,116.5 268.5,118.3 266.0,118.8 266.1,120.8 264.3,121.3 264.4,123.6 262.7,124.2 260.9,125.8 258.4,125.9 257.3,127.3 255.2,127.1 254.1,128.5 252.6,127.3 250.7,127.6 248.7,126.3 246.4,126.8 244.9,125.7 243.0,125.9 241.2,126.2 240.4,128.1 238.7,128.5 238.0,130.4 236.1,131.0 235.1,132.4 232.7,131.8 231.9,133.6 229.8,133.2 228.6,135.3 226.7,135.3 226.5,137.3 225.0,138.7 225.0,140.6 222.8,141.2 222.5,143.0 220.8,142.4 219.2,144.2 217.5,143.2 215.4,144.5 213.0,144.1 211.1,144.7 209.4,143.7 207.7,144.9 205.8,144.1 204.5,145.5 202.6,145.0 202.5,146.7 201.2,147.8 198.5,148.7 197.1,149.7 196.6,151.4 197.1,154.1 196.4,155.6 194.8,155.9 192.1,155.0 190.4,155.0 189.4,156.4 187.6,156.4 186.6,157.8 184.8,157.6 183.9,159.1 181.2,160.0 179.8,162.3 179.3,164.6 178.4,166.9 181.2,167.3 183.9,166.4 185.7,167.3 187.3,167.9 187.5,169.6 189.8,171.0 192.1,170.1 193.9,168.2 195.3,166.4 196.6,165.1 198.0,166.9 198.5,169.6 199.8,171.4 201.7,172.3 202.6,174.2 201.2,174.6 200.3,173.0 198.5,173.3 195.7,173.3 193.9,175.1 192.1,174.5 190.3,175.1 188.6,173.9 186.6,174.2 183.9,175.1 183.0,176.6 181.2,176.9 179.3,178.7 178.4,181.4 179.2,183.3 178.0,185.0 177.8,186.6 176.5,187.6 176.2,189.4 174.1,190.1 173.9,191.9 173.6,193.8 174.8,195.3 175.0,197.7 176.5,199.6 175.9,201.4 176.7,203.1 174.7,202.6 173.3,204.2 171.2,205.2 171.0,208.0 168.7,208.8 168.2,210.5 166.0,210.7 165.3,212.2 163.2,211.8 161.8,213.4 160.4,211.9 158.1,213.3 157.0,210.7 155.0,211.1 155.7,209.2 153.8,207.8 155.0,205.8 153.9,204.2 152.8,202.2 150.3,201.8 149.3,199.7 148.0,198.4 148.4,196.3 147.0,195.1 148.5,193.4 147.1,191.2 148.2,189.4 148.2,187.3 150.6,186.4 150.0,183.9 151.6,182.6 151.4,180.3 154.2,179.1 153.9,176.8 155.4,175.5 154.4,173.2 156.0,172.0 158.5,171.3 160.1,171.0 161.1,169.6 163.0,169.9 164.5,168.8 166.7,167.8 167.1,165.4 165.4,163.6 164.7,165.5 162.8,166.2 161.5,167.8 159.4,167.9 157.5,168.4 156.0,167.1 154.7,166.1 154.3,164.5 152.7,163.5 153.3,161.2 151.7,160.2 151.0,158.5 149.1,158.5 147.9,158.5 146.0,158.2 144.7,156.8 142.5,156.6 141.4,154.6 139.6,154.7 138.1,153.6 136.0,152.7 134.8,150.8 132.5,150.5 131.0,148.6 129.2,149.8 127.2,149.2 125.5,151.4 124.4,150.2 122.8,150.3 121.5,148.7 119.5,148.1 119.9,146.1"/><polygon points="116.5,124.0 118.2,123.2 119.0,121.5 121.4,121.3 123.0,119.5 124.9,118.7 126.0,117.0 127.9,115.4 128.5,113.0 129.7,111.4 129.0,109.5 130.1,107.8 128.5,105.8 129.5,104.0 129.1,102.1 130.8,100.6 129.9,98.6 131.0,97.0 132.7,95.3 135.0,95.0 137.4,94.8 139.0,96.5 140.7,95.6 142.5,96.3 145.0,96.3 144.4,98.1 146.4,99.3 146.0,101.0 147.0,102.5 145.7,104.5 147.0,106.0 146.1,107.7 148.0,109.3 147.3,111.0 146.6,112.6 145.0,113.4 143.0,112.8 142.0,111.0 139.8,111.3 138.0,110.0 136.4,111.2 134.5,110.5 134.8,112.5 133.5,114.0 134.3,116.0 133.5,118.0 133.8,120.2 132.4,122.0 131.1,123.7 129.0,124.0 127.3,125.5 125.0,126.0 123.1,126.8 121.0,126.5 120.0,128.2 118.0,128.0 116.3,126.4"/><polygon points="172.9,84.0 174.7,84.8 176.4,84.0 176.0,86.3 177.2,88.2 177.7,90.6 179.8,91.7 180.7,93.4 182.4,94.2 183.1,95.8 185.1,96.1 185.8,97.7 187.9,98.5 189.2,100.2 190.9,101.6 191.8,103.6 192.0,105.5 190.9,107.1 189.7,109.0 187.5,109.6 184.9,109.8 183.2,107.9 180.9,107.4 179.8,105.4 177.9,104.1 177.2,101.9 176.2,100.0 177.6,97.8 176.4,95.9 176.5,93.7 174.7,92.1 174.7,90.0 172.9,88.7 172.9,86.5"/><polygon points="171.2,102.0 173.5,101.0 175.5,103.0 177.2,106.0 176.0,109.6 173.5,108.5 171.5,106.0"/><polygon points="334.6,45.0 336.3,43.8 335.5,41.3 337.0,40.0 337.3,38.1 339.8,37.9 340.0,36.0 341.7,36.1 343.0,35.0 343.3,37.0 345.0,38.0 346.2,40.2 348.6,41.0 346.8,42.6 347.0,45.0 345.5,46.0 345.5,48.0 344.0,49.0 342.7,50.2 341.0,50.0 338.8,50.5 337.0,49.0 334.9,47.5"/><polygon points="366.0,22.0 367.6,21.1 367.4,18.9 369.0,18.0 370.2,16.7 372.0,17.0 372.4,15.1 374.0,14.0 375.6,13.7 376.7,15.0 376.8,17.2 375.5,19.0 374.1,20.9 372.0,22.0 370.9,23.6 369.0,24.0 366.5,24.0"/><polygon points="129.9,221.4 131.6,221.8 132.8,220.0 134.5,220.2 136.4,221.2 136.2,223.7 137.9,224.8 140.2,225.9 142.4,224.8 143.6,226.2 145.9,225.5 147.0,227.1 148.8,227.3 149.6,229.5 151.6,229.3 153.3,230.7 155.5,229.5 157.3,230.5 158.9,231.6 158.2,233.9 159.6,235.1 160.1,236.8 162.6,236.6 163.0,238.5 164.6,239.2 164.8,241.2 166.4,241.9 164.0,241.9 161.8,243.0 160.7,241.1 158.2,240.6 157.3,238.5 155.6,238.7 154.4,237.1 152.7,237.3 150.7,235.8 148.2,236.2 146.1,235.0 143.6,235.1 142.5,233.3 140.1,233.4 139.0,231.6 136.5,232.0 134.5,230.5 132.2,231.2 129.9,230.5 128.5,228.4 128.8,225.9 128.3,223.4"/><polygon points="159.1,117.1 161.2,116.1 162.5,114.2 164.5,114.0 165.9,112.5 167.4,113.7 169.3,113.7 170.8,115.7 173.3,116.0 175.0,118.2 174.8,119.8 173.3,120.5 171.6,122.2 169.3,122.8 168.0,123.7 166.5,123.4 164.4,123.4 163.1,121.7 161.2,120.7 160.2,118.8"/><polygon points="290.6,67.6 289.6,69.4 287.1,70.5 285.6,69.6 284.1,70.5 281.6,69.4 280.6,67.6 281.6,65.8 284.1,64.7 285.6,65.4 287.1,64.7 289.6,65.8"/><polygon points="308.5,69.6 308.1,70.4 307.2,70.4 306.7,69.6 307.2,68.8 308.1,68.8"/><polygon points="313.8,71.7 313.6,72.3 313.0,72.7 312.3,72.7 311.7,72.3 311.5,71.7 311.7,71.0 312.3,70.6 313.0,70.6 313.6,71.0"/><polygon points="360.7,39.5 360.3,40.1 359.3,40.5 358.1,40.5 357.1,40.1 356.7,39.5 357.1,38.9 358.1,38.5 359.3,38.5 360.3,38.9"/><polygon points="359.7,69.6 359.2,70.8 358.0,71.5 356.4,71.5 355.2,70.8 354.7,69.6 355.2,68.4 356.4,67.7 358.0,67.7 359.2,68.4"/><polygon points="277.5,122.6 278.8,121.7 279.1,120.2 281.4,120.8 283.2,119.3 284.9,118.6 285.7,116.9 287.4,117.6 288.9,116.4 289.1,118.3 290.9,119.0 289.1,119.8 288.9,121.8 287.2,122.0 286.5,124.0 284.8,124.2 283.9,125.8 281.5,124.9 280.7,126.7 279.3,125.4 277.5,125.9 278.3,124.2"/><polygon points="231.9,124.7 231.3,125.9 229.8,126.7 228.0,126.7 226.5,125.9 225.9,124.7 226.5,123.4 228.0,122.6 229.8,122.6 231.3,123.4"/><polygon points="199.9,80.0 199.4,80.8 198.6,80.8 198.1,80.0 198.6,79.2 199.4,79.2"/><polygon points="215.9,83.0 215.4,83.8 214.6,83.8 214.1,83.0 214.6,82.2 215.4,82.2"/><polygon points="231.9,97.0 231.4,97.8 230.6,97.8 230.1,97.0 230.6,96.2 231.4,96.2"/><polygon points="216.0,122.5 215.6,123.4 214.6,123.9 213.4,123.9 212.4,123.4 212.0,122.5 212.4,121.6 213.4,121.1 214.6,121.1 215.6,121.6"/><polygon points="108.9,140.0 108.5,140.8 107.5,140.8 107.1,140.0 107.5,139.2 108.5,139.2"/><polygon points="103.9,143.0 103.5,143.8 102.5,143.8 102.1,143.0 102.5,142.2 103.5,142.2"/><polygon points="124.9,186.0 124.5,186.8 123.5,186.8 123.1,186.0 123.5,185.2 124.5,185.2"/><polygon points="127.6,189.9 127.0,191.6 125.3,192.7 123.1,192.7 121.4,191.6 120.8,189.9 121.4,188.3 123.1,187.2 125.3,187.2 127.0,188.3"/><polygon points="146.6,197.0 146.1,197.8 145.2,197.8 144.8,197.0 145.2,196.2 146.1,196.2"/><polygon points="193.8,183.0 193.4,184.8 192.2,185.9 190.8,185.9 189.6,184.8 189.2,183.0 189.6,181.2 190.8,180.1 192.2,180.1 193.4,181.2"/><polygon points="206.0,226.0 205.4,227.2 203.9,227.9 202.1,227.9 200.6,227.2 200.0,226.0 200.6,224.8 202.1,224.1 203.9,224.1 205.4,224.8"/><polygon points="212.0,217.0 211.6,218.8 210.6,219.9 209.4,219.9 208.4,218.8 208.0,217.0 208.4,215.2 209.4,214.1 210.6,214.1 211.6,215.2"/><polygon points="214.9,226.0 214.4,226.8 213.6,226.8 213.1,226.0 213.6,225.2 214.4,225.2"/><polygon points="231.0,226.0 230.3,227.2 228.6,227.9 226.4,227.9 224.7,227.2 224.0,226.0 224.7,224.8 226.4,224.1 228.6,224.1 230.3,224.8"/><polygon points="199.9,211.0 199.4,211.8 198.6,211.8 198.1,211.0 198.6,210.2 199.4,210.2"/><polygon points="198.9,158.7 201.2,161.9 198.9,165.1 196.6,161.9"/><polygon points="177.5,158.9 177.2,160.4 176.4,161.3 175.4,161.3 174.6,160.4 174.3,158.9 174.6,157.4 175.4,156.5 176.4,156.5 177.2,157.4"/><polygon points="185.2,162.3 184.8,163.1 183.9,163.1 183.4,162.3 183.9,161.5 184.8,161.5"/><polygon points="158.9,163.0 158.4,163.8 157.6,163.8 157.1,163.0 157.6,162.2 158.4,162.2"/><polygon points="161.9,166.0 161.4,166.8 160.6,166.8 160.1,166.0 160.6,165.2 161.4,165.2"/><polygon points="272.0,126.8 271.7,127.8 270.9,128.4 269.8,128.4 269.0,127.8 268.7,126.8 269.0,125.7 269.8,125.1 270.9,125.1 271.7,125.7"/><polygon points="168.5,246.5 168.0,247.3 167.2,247.3 166.7,246.5 167.2,245.7 168.0,245.7"/><polygon points="140.9,133.0 140.4,133.8 139.6,133.8 139.1,133.0 139.6,132.2 140.4,132.2"/><polygon points="145.9,131.0 145.4,131.8 144.6,131.8 144.1,131.0 144.6,130.2 145.4,130.2"/><polygon points="150.9,132.0 150.4,132.8 149.6,132.8 149.1,132.0 149.6,131.2 150.4,131.2"/><polygon points="231.1,125.3 230.4,126.4 228.8,126.9 227.2,126.4 226.5,125.3 227.2,124.2 228.8,123.7 230.4,124.2"/><polygon points="321.8,82.5 321.3,83.3 320.4,83.3 320.0,82.5 320.4,81.7 321.3,81.7"/></g></g>
</g>
<rect x="74.7" y="0.5" width="307.8" height="250.6" fill="none" stroke="#3a3a3a" stroke-width="1.2"/><path d="M76.40 0.5v4.5M76.40 251.1v-4.5M88.27 0.5v2.3M88.27 251.1v-2.3M100.14 0.5v2.3M100.14 251.1v-2.3M112.01 0.5v2.3M112.01 251.1v-2.3M123.88 0.5v2.3M123.88 251.1v-2.3M135.75 0.5v4.5M135.75 251.1v-4.5M147.62 0.5v2.3M147.62 251.1v-2.3M159.49 0.5v2.3M159.49 251.1v-2.3M171.36 0.5v2.3M171.36 251.1v-2.3M183.23 0.5v2.3M183.23 251.1v-2.3M195.10 0.5v4.5M195.10 251.1v-4.5M206.97 0.5v2.3M206.97 251.1v-2.3M218.84 0.5v2.3M218.84 251.1v-2.3M230.71 0.5v2.3M230.71 251.1v-2.3M242.58 0.5v2.3M242.58 251.1v-2.3M254.45 0.5v4.5M254.45 251.1v-4.5M266.32 0.5v2.3M266.32 251.1v-2.3M278.19 0.5v2.3M278.19 251.1v-2.3M290.06 0.5v2.3M290.06 251.1v-2.3M301.93 0.5v2.3M301.93 251.1v-2.3M313.80 0.5v4.5M313.80 251.1v-4.5M325.67 0.5v2.3M325.67 251.1v-2.3M337.54 0.5v2.3M337.54 251.1v-2.3M349.41 0.5v2.3M349.41 251.1v-2.3M361.28 0.5v2.3M361.28 251.1v-2.3M373.15 0.5v4.5M373.15 251.1v-4.5M74.7 2.78h2.3M382.5 2.78h-2.3M74.7 14.64h2.3M382.5 14.64h-2.3M74.7 26.50h4.5M382.5 26.50h-4.5M74.7 38.36h2.3M382.5 38.36h-2.3M74.7 50.22h2.3M382.5 50.22h-2.3M74.7 62.08h2.3M382.5 62.08h-2.3M74.7 73.94h2.3M382.5 73.94h-2.3M74.7 85.80h4.5M382.5 85.80h-4.5M74.7 97.66h2.3M382.5 97.66h-2.3M74.7 109.52h2.3M382.5 109.52h-2.3M74.7 121.38h2.3M382.5 121.38h-2.3M74.7 133.24h2.3M382.5 133.24h-2.3M74.7 145.10h4.5M382.5 145.10h-4.5M74.7 156.96h2.3M382.5 156.96h-2.3M74.7 168.82h2.3M382.5 168.82h-2.3M74.7 180.68h2.3M382.5 180.68h-2.3M74.7 192.54h2.3M382.5 192.54h-2.3M74.7 204.40h4.5M382.5 204.40h-4.5M74.7 216.26h2.3M382.5 216.26h-2.3M74.7 228.12h2.3M382.5 228.12h-2.3M74.7 239.98h2.3M382.5 239.98h-2.3" stroke="#3a3a3a" stroke-width="1.1" fill="none"/><rect x="392.4" y="0.5" width="307.6" height="250.6" fill="none" stroke="#3a3a3a" stroke-width="1.2"/><path d="M393.90 0.5v4.5M393.90 251.1v-4.5M405.77 0.5v2.3M405.77 251.1v-2.3M417.64 0.5v2.3M417.64 251.1v-2.3M429.51 0.5v2.3M429.51 251.1v-2.3M441.38 0.5v2.3M441.38 251.1v-2.3M453.25 0.5v4.5M453.25 251.1v-4.5M465.12 0.5v2.3M465.12 251.1v-2.3M476.99 0.5v2.3M476.99 251.1v-2.3M488.86 0.5v2.3M488.86 251.1v-2.3M500.73 0.5v2.3M500.73 251.1v-2.3M512.60 0.5v4.5M512.60 251.1v-4.5M524.47 0.5v2.3M524.47 251.1v-2.3M536.34 0.5v2.3M536.34 251.1v-2.3M548.21 0.5v2.3M548.21 251.1v-2.3M560.08 0.5v2.3M560.08 251.1v-2.3M571.95 0.5v4.5M571.95 251.1v-4.5M583.82 0.5v2.3M583.82 251.1v-2.3M595.69 0.5v2.3M595.69 251.1v-2.3M607.56 0.5v2.3M607.56 251.1v-2.3M619.43 0.5v2.3M619.43 251.1v-2.3M631.30 0.5v4.5M631.30 251.1v-4.5M643.17 0.5v2.3M643.17 251.1v-2.3M655.04 0.5v2.3M655.04 251.1v-2.3M666.91 0.5v2.3M666.91 251.1v-2.3M678.78 0.5v2.3M678.78 251.1v-2.3M690.65 0.5v4.5M690.65 251.1v-4.5M392.4 2.78h2.3M700.0 2.78h-2.3M392.4 14.64h2.3M700.0 14.64h-2.3M392.4 26.50h4.5M700.0 26.50h-4.5M392.4 38.36h2.3M700.0 38.36h-2.3M392.4 50.22h2.3M700.0 50.22h-2.3M392.4 62.08h2.3M700.0 62.08h-2.3M392.4 73.94h2.3M700.0 73.94h-2.3M392.4 85.80h4.5M700.0 85.80h-4.5M392.4 97.66h2.3M700.0 97.66h-2.3M392.4 109.52h2.3M700.0 109.52h-2.3M392.4 121.38h2.3M700.0 121.38h-2.3M392.4 133.24h2.3M700.0 133.24h-2.3M392.4 145.10h4.5M700.0 145.10h-4.5M392.4 156.96h2.3M700.0 156.96h-2.3M392.4 168.82h2.3M700.0 168.82h-2.3M392.4 180.68h2.3M700.0 180.68h-2.3M392.4 192.54h2.3M700.0 192.54h-2.3M392.4 204.40h4.5M700.0 204.40h-4.5M392.4 216.26h2.3M700.0 216.26h-2.3M392.4 228.12h2.3M700.0 228.12h-2.3M392.4 239.98h2.3M700.0 239.98h-2.3" stroke="#3a3a3a" stroke-width="1.1" fill="none"/><rect x="74.7" y="256.9" width="307.8" height="249.8" fill="none" stroke="#3a3a3a" stroke-width="1.2"/><path d="M76.40 256.9v4.5M76.40 506.7v-4.5M88.27 256.9v2.3M88.27 506.7v-2.3M100.14 256.9v2.3M100.14 506.7v-2.3M112.01 256.9v2.3M112.01 506.7v-2.3M123.88 256.9v2.3M123.88 506.7v-2.3M135.75 256.9v4.5M135.75 506.7v-4.5M147.62 256.9v2.3M147.62 506.7v-2.3M159.49 256.9v2.3M159.49 506.7v-2.3M171.36 256.9v2.3M171.36 506.7v-2.3M183.23 256.9v2.3M183.23 506.7v-2.3M195.10 256.9v4.5M195.10 506.7v-4.5M206.97 256.9v2.3M206.97 506.7v-2.3M218.84 256.9v2.3M218.84 506.7v-2.3M230.71 256.9v2.3M230.71 506.7v-2.3M242.58 256.9v2.3M242.58 506.7v-2.3M254.45 256.9v4.5M254.45 506.7v-4.5M266.32 256.9v2.3M266.32 506.7v-2.3M278.19 256.9v2.3M278.19 506.7v-2.3M290.06 256.9v2.3M290.06 506.7v-2.3M301.93 256.9v2.3M301.93 506.7v-2.3M313.80 256.9v4.5M313.80 506.7v-4.5M325.67 256.9v2.3M325.67 506.7v-2.3M337.54 256.9v2.3M337.54 506.7v-2.3M349.41 256.9v2.3M349.41 506.7v-2.3M361.28 256.9v2.3M361.28 506.7v-2.3M373.15 256.9v4.5M373.15 506.7v-4.5M74.7 258.48h2.3M382.5 258.48h-2.3M74.7 270.34h2.3M382.5 270.34h-2.3M74.7 282.20h4.5M382.5 282.20h-4.5M74.7 294.06h2.3M382.5 294.06h-2.3M74.7 305.92h2.3M382.5 305.92h-2.3M74.7 317.78h2.3M382.5 317.78h-2.3M74.7 329.64h2.3M382.5 329.64h-2.3M74.7 341.50h4.5M382.5 341.50h-4.5M74.7 353.36h2.3M382.5 353.36h-2.3M74.7 365.22h2.3M382.5 365.22h-2.3M74.7 377.08h2.3M382.5 377.08h-2.3M74.7 388.94h2.3M382.5 388.94h-2.3M74.7 400.80h4.5M382.5 400.80h-4.5M74.7 412.66h2.3M382.5 412.66h-2.3M74.7 424.52h2.3M382.5 424.52h-2.3M74.7 436.38h2.3M382.5 436.38h-2.3M74.7 448.24h2.3M382.5 448.24h-2.3M74.7 460.10h4.5M382.5 460.10h-4.5M74.7 471.96h2.3M382.5 471.96h-2.3M74.7 483.82h2.3M382.5 483.82h-2.3M74.7 495.68h2.3M382.5 495.68h-2.3" stroke="#3a3a3a" stroke-width="1.1" fill="none"/><rect x="392.4" y="256.9" width="307.6" height="249.8" fill="none" stroke="#3a3a3a" stroke-width="1.2"/><path d="M393.90 256.9v4.5M393.90 506.7v-4.5M405.77 256.9v2.3M405.77 506.7v-2.3M417.64 256.9v2.3M417.64 506.7v-2.3M429.51 256.9v2.3M429.51 506.7v-2.3M441.38 256.9v2.3M441.38 506.7v-2.3M453.25 256.9v4.5M453.25 506.7v-4.5M465.12 256.9v2.3M465.12 506.7v-2.3M476.99 256.9v2.3M476.99 506.7v-2.3M488.86 256.9v2.3M488.86 506.7v-2.3M500.73 256.9v2.3M500.73 506.7v-2.3M512.60 256.9v4.5M512.60 506.7v-4.5M524.47 256.9v2.3M524.47 506.7v-2.3M536.34 256.9v2.3M536.34 506.7v-2.3M548.21 256.9v2.3M548.21 506.7v-2.3M560.08 256.9v2.3M560.08 506.7v-2.3M571.95 256.9v4.5M571.95 506.7v-4.5M583.82 256.9v2.3M583.82 506.7v-2.3M595.69 256.9v2.3M595.69 506.7v-2.3M607.56 256.9v2.3M607.56 506.7v-2.3M619.43 256.9v2.3M619.43 506.7v-2.3M631.30 256.9v4.5M631.30 506.7v-4.5M643.17 256.9v2.3M643.17 506.7v-2.3M655.04 256.9v2.3M655.04 506.7v-2.3M666.91 256.9v2.3M666.91 506.7v-2.3M678.78 256.9v2.3M678.78 506.7v-2.3M690.65 256.9v4.5M690.65 506.7v-4.5M392.4 258.48h2.3M700.0 258.48h-2.3M392.4 270.34h2.3M700.0 270.34h-2.3M392.4 282.20h4.5M700.0 282.20h-4.5M392.4 294.06h2.3M700.0 294.06h-2.3M392.4 305.92h2.3M700.0 305.92h-2.3M392.4 317.78h2.3M700.0 317.78h-2.3M392.4 329.64h2.3M700.0 329.64h-2.3M392.4 341.50h4.5M700.0 341.50h-4.5M392.4 353.36h2.3M700.0 353.36h-2.3M392.4 365.22h2.3M700.0 365.22h-2.3M392.4 377.08h2.3M700.0 377.08h-2.3M392.4 388.94h2.3M700.0 388.94h-2.3M392.4 400.80h4.5M700.0 400.80h-4.5M392.4 412.66h2.3M700.0 412.66h-2.3M392.4 424.52h2.3M700.0 424.52h-2.3M392.4 436.38h2.3M700.0 436.38h-2.3M392.4 448.24h2.3M700.0 448.24h-2.3M392.4 460.10h4.5M700.0 460.10h-4.5M392.4 471.96h2.3M700.0 471.96h-2.3M392.4 483.82h2.3M700.0 483.82h-2.3M392.4 495.68h2.3M700.0 495.68h-2.3" stroke="#3a3a3a" stroke-width="1.1" fill="none"/>
<g font-size="15">
<text x="90.5" y="26">DBSCAN</text>
<text x="408" y="26">Stacking Intensity</text>
<text x="89.8" y="282">Stacking Bump at 2<tspan font-family="Liberation Serif" font-style="italic">σ</tspan></text>
<text x="407.3" y="282">Stacking Bump at 1.5<tspan font-family="Liberation Serif" font-style="italic">σ</tspan></text>
</g>
<g font-size="14.5" text-anchor="end">
<text transform="translate(69.5,286.9) scale(1.07,1)">0°20′</text>
<text transform="translate(69.5,346.2) scale(1.07,1)">00′</text>
<text transform="translate(69.5,405.5) scale(1.07,1)">−0°20′</text>
<text transform="translate(69.5,464.8) scale(1.07,1)">40′</text>
</g>
<g font-size="14.5" text-anchor="middle">
<text transform="translate(76.4,523.6) scale(1.07,1)">218°40′</text>
<text transform="translate(135.8,523.6) scale(1.07,1)">20′</text>
<text transform="translate(195.1,523.6) scale(1.07,1)">00′</text>
<text transform="translate(254.5,523.6) scale(1.07,1)">217°40′</text>
<text transform="translate(313.8,523.6) scale(1.07,1)">20′</text>
<text transform="translate(373.1,523.6) scale(1.07,1)">00′</text>
</g>
<text x="228.2" y="545.6" font-size="15.2" text-anchor="middle">Galactic Longitude</text>
<text transform="translate(12.3,383.8) rotate(-90)" font-size="15.3" text-anchor="middle">Galactic Latitude</text>
</svg>
</body></html>
